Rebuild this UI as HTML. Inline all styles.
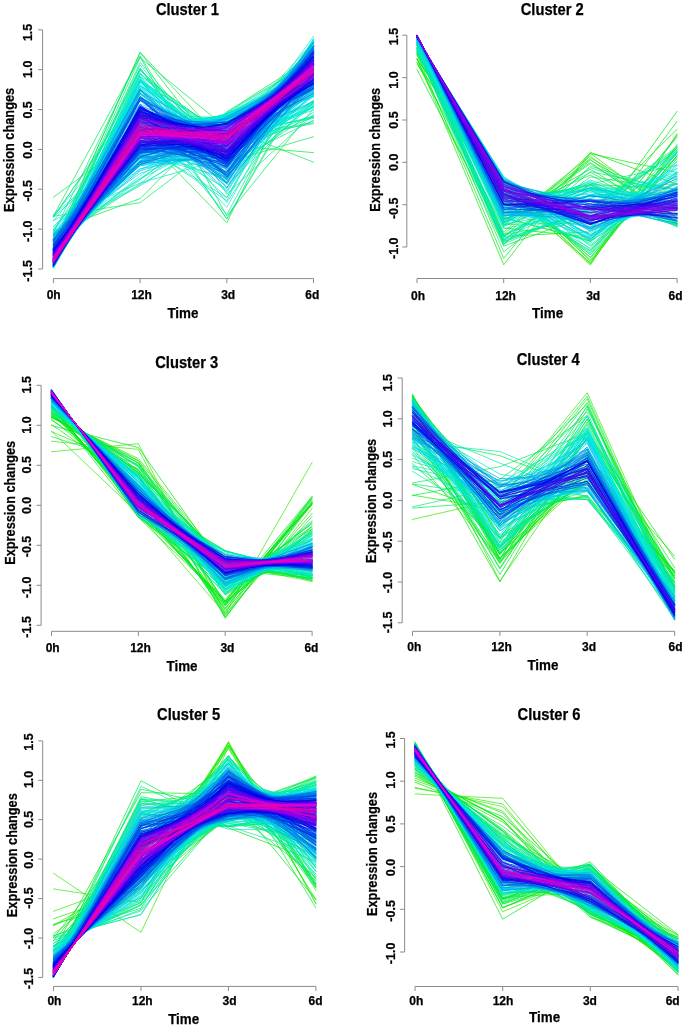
<!DOCTYPE html><html><head><meta charset="utf-8"><style>html,body{margin:0;padding:0;background:#fff;}svg{display:block;}text{font-family:"Liberation Sans",sans-serif;font-weight:bold;fill:#000;}</style></head><body>
<svg width="685" height="1026" viewBox="0 0 685 1026"><defs><filter id="bl" x="-5%" y="-5%" width="110%" height="110%"><feGaussianBlur stdDeviation="0.45"/></filter><filter id="tb" x="0" y="0" width="100%" height="100%"><feGaussianBlur stdDeviation="0.3"/></filter></defs><rect width="685" height="1026" fill="#fff"/><g filter="url(#tb)" stroke="#000" stroke-width="0.25">
<g fill="none" stroke-linecap="round" stroke-linejoin="round" stroke-width="0.70" filter="url(#bl)"><polyline points="53.4,230.6 140.1,198.6 226.8,112.0 313.5,56.4" stroke="#00ea3a"/><polyline points="53.4,197.2 140.1,133.5 226.8,222.7 313.5,44.2" stroke="#00ea3a"/><polyline points="53.4,247.4 140.1,52.2 226.8,145.4 313.5,152.6" stroke="#00ea3a"/><polyline points="53.4,261.6 140.1,74.0 226.8,138.4 313.5,123.7" stroke="#00ea50"/><polyline points="53.4,249.6 140.1,57.7 226.8,128.1 313.5,162.2" stroke="#00ea50"/><polyline points="53.4,246.1 140.1,52.6 226.8,162.3 313.5,136.7" stroke="#00ea50"/><polyline points="53.4,216.0 140.1,56.9 226.8,215.9 313.5,108.8" stroke="#00ea50"/><polyline points="53.4,257.5 140.1,69.9 226.8,153.1 313.5,117.1" stroke="#00ea67"/><polyline points="53.4,216.9 140.1,93.6 226.8,218.8 313.5,68.3" stroke="#00ea67"/><polyline points="53.4,216.3 140.1,202.7 226.8,136.7 313.5,41.8" stroke="#00ea67"/><polyline points="53.4,268.1 140.1,114.9 226.8,117.7 313.5,96.9" stroke="#00ea7c"/><polyline points="53.4,251.6 140.1,62.4 226.8,163.3 313.5,120.3" stroke="#00ea7c"/><polyline points="53.4,247.4 140.1,69.0 226.8,178.2 313.5,103.0" stroke="#00ea7c"/><polyline points="53.4,241.6 140.1,183.8 226.8,112.2 313.5,60.0" stroke="#00ea7c"/><polyline points="53.4,217.4 140.1,88.7 226.8,219.0 313.5,72.5" stroke="#00ea92"/><polyline points="53.4,242.0 140.1,178.5 226.8,122.0 313.5,55.1" stroke="#00ea92"/><polyline points="53.4,233.5 140.1,55.8 226.8,194.0 313.5,114.4" stroke="#00ea92"/><polyline points="53.4,243.6 140.1,68.0 226.8,184.7 313.5,101.4" stroke="#00eaa8"/><polyline points="53.4,266.9 140.1,124.2 226.8,116.7 313.5,89.9" stroke="#00eaa8"/><polyline points="53.4,232.0 140.1,92.0 226.8,202.5 313.5,71.2" stroke="#00eaa8"/><polyline points="53.4,262.5 140.1,76.1 226.8,136.2 313.5,122.8" stroke="#00eaa8"/><polyline points="53.4,254.5 140.1,161.1 226.8,113.8 313.5,68.2" stroke="#00eaa8"/><polyline points="53.4,259.9 140.1,73.8 226.8,148.2 313.5,115.7" stroke="#00eaa8"/><polyline points="53.4,243.9 140.1,179.8 226.8,113.4 313.5,60.5" stroke="#00eaa8"/><polyline points="53.4,266.1 140.1,129.1 226.8,114.8 313.5,87.6" stroke="#00eaa8"/><polyline points="53.4,248.8 140.1,68.2 226.8,175.0 313.5,105.6" stroke="#00eaa8"/><polyline points="53.4,233.6 140.1,185.9 226.8,129.9 313.5,48.2" stroke="#00eaa8"/><polyline points="53.4,259.0 140.1,70.4 226.8,147.1 313.5,121.1" stroke="#00eaa8"/><polyline points="53.4,264.6 140.1,85.3 226.8,137.6 313.5,110.1" stroke="#00eaa8"/><polyline points="53.4,215.4 140.1,114.5 226.8,214.5 313.5,53.2" stroke="#00eaa8"/><polyline points="53.4,266.4 140.1,127.6 226.8,115.5 313.5,88.1" stroke="#00eaa8"/><polyline points="53.4,264.5 140.1,81.7 226.8,133.1 313.5,118.4" stroke="#00eaa8"/><polyline points="53.4,249.8 140.1,64.9 226.8,170.8 313.5,112.1" stroke="#00eaa8"/><polyline points="53.4,258.3 140.1,153.0 226.8,113.8 313.5,72.4" stroke="#00eaa8"/><polyline points="53.4,263.4 140.1,79.9 226.8,138.0 313.5,116.3" stroke="#00eaa8"/><polyline points="53.4,262.2 140.1,85.6 226.8,147.9 313.5,101.9" stroke="#00eaa8"/><polyline points="53.4,260.6 140.1,81.0 226.8,151.5 313.5,104.5" stroke="#00eaa8"/><polyline points="53.4,257.6 140.1,154.0 226.8,115.0 313.5,71.1" stroke="#00eabe"/><polyline points="53.4,220.3 140.1,183.0 226.8,158.2 313.5,36.1" stroke="#00eabe"/><polyline points="53.4,254.4 140.1,72.8 226.8,164.9 313.5,105.5" stroke="#00eabe"/><polyline points="53.4,263.9 140.1,80.7 226.8,135.6 313.5,117.3" stroke="#00eabe"/><polyline points="53.4,263.6 140.1,139.2 226.8,113.4 313.5,81.4" stroke="#00eabe"/><polyline points="53.4,264.0 140.1,137.8 226.8,113.7 313.5,82.2" stroke="#00eabe"/><polyline points="53.4,245.7 140.1,175.8 226.8,116.1 313.5,60.0" stroke="#00eabe"/><polyline points="53.4,259.4 140.1,80.1 226.8,154.8 313.5,103.3" stroke="#00eabe"/><polyline points="53.4,265.6 140.1,131.2 226.8,115.1 313.5,85.8" stroke="#00eabe"/><polyline points="53.4,267.4 140.1,119.7 226.8,118.3 313.5,92.2" stroke="#00eabe"/><polyline points="53.4,265.2 140.1,132.5 226.8,115.4 313.5,84.5" stroke="#00eabe"/><polyline points="53.4,243.5 140.1,80.0 226.8,187.5 313.5,86.6" stroke="#00eabe"/><polyline points="53.4,214.7 140.1,143.1 226.8,200.6 313.5,39.2" stroke="#00eabe"/><polyline points="53.4,260.6 140.1,79.1 226.8,150.2 313.5,107.6" stroke="#00eabe"/><polyline points="53.4,229.9 140.1,116.8 226.8,197.5 313.5,53.5" stroke="#00eabe"/><polyline points="53.4,263.4 140.1,138.6 226.8,115.2 313.5,80.4" stroke="#00eabe"/><polyline points="53.4,226.8 140.1,139.8 226.8,188.6 313.5,42.4" stroke="#00eabe"/><polyline points="53.4,217.0 140.1,143.4 226.8,197.8 313.5,39.4" stroke="#00eabe"/><polyline points="53.4,267.3 140.1,122.4 226.8,116.2 313.5,91.7" stroke="#00eabe"/><polyline points="53.4,261.8 140.1,85.4 226.8,149.3 313.5,101.2" stroke="#00ead4"/><polyline points="53.4,261.8 140.1,82.0 226.8,147.6 313.5,106.2" stroke="#00ead4"/><polyline points="53.4,267.7 140.1,116.5 226.8,119.4 313.5,93.9" stroke="#00ead4"/><polyline points="53.4,253.8 140.1,76.0 226.8,167.7 313.5,100.1" stroke="#00ead4"/><polyline points="53.4,236.1 140.1,178.5 226.8,136.3 313.5,46.8" stroke="#00ead4"/><polyline points="53.4,262.1 140.1,142.7 226.8,114.8 313.5,77.9" stroke="#00ead4"/><polyline points="53.4,228.7 140.1,148.4 226.8,180.0 313.5,40.6" stroke="#00ead4"/><polyline points="53.4,249.9 140.1,87.2 226.8,176.9 313.5,83.6" stroke="#00ead4"/><polyline points="53.4,226.6 140.1,154.9 226.8,177.5 313.5,38.6" stroke="#00ead4"/><polyline points="53.4,254.5 140.1,80.9 226.8,167.4 313.5,94.7" stroke="#00ead4"/><polyline points="53.4,266.5 140.1,126.9 226.8,115.8 313.5,88.4" stroke="#00ead4"/><polyline points="53.4,221.0 140.1,117.9 226.8,207.2 313.5,51.4" stroke="#00ead4"/><polyline points="53.4,265.9 140.1,127.3 226.8,118.8 313.5,85.7" stroke="#00ead4"/><polyline points="53.4,260.1 140.1,81.5 226.8,153.3 313.5,102.7" stroke="#00ead4"/><polyline points="53.4,264.3 140.1,85.9 226.8,139.7 313.5,107.6" stroke="#00ead4"/><polyline points="53.4,253.8 140.1,85.3 226.8,169.5 313.5,89.0" stroke="#00ead4"/><polyline points="53.4,232.1 140.1,184.5 226.8,135.6 313.5,45.5" stroke="#00ead4"/><polyline points="53.4,266.1 140.1,93.5 226.8,134.4 313.5,103.6" stroke="#00ead4"/><polyline points="53.4,259.5 140.1,78.3 226.8,153.5 313.5,106.3" stroke="#00ead4"/><polyline points="53.4,248.1 140.1,86.0 226.8,180.1 313.5,83.4" stroke="#00ead4"/><polyline points="53.4,256.7 140.1,156.5 226.8,113.9 313.5,70.5" stroke="#00eaea"/><polyline points="53.4,239.3 140.1,168.9 226.8,142.6 313.5,46.7" stroke="#00eaea"/><polyline points="53.4,266.1 140.1,100.3 226.8,134.9 313.5,96.3" stroke="#00eaea"/><polyline points="53.4,244.9 140.1,170.1 226.8,128.4 313.5,54.2" stroke="#00eaea"/><polyline points="53.4,266.2 140.1,127.6 226.8,116.5 313.5,87.2" stroke="#00eaea"/><polyline points="53.4,230.0 140.1,161.9 226.8,166.4 313.5,39.3" stroke="#00eaea"/><polyline points="53.4,248.1 140.1,77.0 226.8,179.4 313.5,93.1" stroke="#00eaea"/><polyline points="53.4,258.9 140.1,150.1 226.8,116.6 313.5,72.0" stroke="#00eaea"/><polyline points="53.4,259.2 140.1,85.6 226.8,156.9 313.5,95.9" stroke="#00eaea"/><polyline points="53.4,257.5 140.1,82.7 226.8,160.8 313.5,96.6" stroke="#00eaea"/><polyline points="53.4,261.0 140.1,79.8 226.8,149.4 313.5,107.4" stroke="#00eaea"/><polyline points="53.4,265.4 140.1,129.8 226.8,117.9 313.5,84.5" stroke="#00eaea"/><polyline points="53.4,261.3 140.1,144.6 226.8,115.3 313.5,76.3" stroke="#00eaea"/><polyline points="53.4,266.3 140.1,123.8 226.8,120.5 313.5,87.0" stroke="#00eaea"/><polyline points="53.4,239.3 140.1,165.8 226.8,146.4 313.5,46.0" stroke="#00eaea"/><polyline points="53.4,266.4 140.1,125.6 226.8,117.6 313.5,87.9" stroke="#00eaea"/><polyline points="53.4,265.3 140.1,130.1 226.8,117.9 313.5,84.2" stroke="#00eaea"/><polyline points="53.4,257.7 140.1,152.3 226.8,117.8 313.5,69.8" stroke="#00eaea"/><polyline points="53.4,254.6 140.1,159.6 226.8,116.5 313.5,66.9" stroke="#00eaea"/><polyline points="53.4,239.8 140.1,161.7 226.8,150.3 313.5,45.8" stroke="#00eaea"/><polyline points="53.4,235.4 140.1,173.4 226.8,144.5 313.5,44.2" stroke="#00d4ea"/><polyline points="53.4,236.3 140.1,164.7 226.8,153.2 313.5,43.3" stroke="#00d4ea"/><polyline points="53.4,256.6 140.1,90.5 226.8,163.6 313.5,87.0" stroke="#00d4ea"/><polyline points="53.4,253.3 140.1,81.1 226.8,170.0 313.5,93.2" stroke="#00d4ea"/><polyline points="53.4,264.7 140.1,98.2 226.8,140.6 313.5,94.1" stroke="#00d4ea"/><polyline points="53.4,233.8 140.1,165.8 226.8,156.4 313.5,41.6" stroke="#00d4ea"/><polyline points="53.4,258.1 140.1,90.7 226.8,160.0 313.5,88.8" stroke="#00d4ea"/><polyline points="53.4,251.3 140.1,162.8 226.8,122.3 313.5,61.3" stroke="#00d4ea"/><polyline points="53.4,234.8 140.1,156.9 226.8,163.8 313.5,42.1" stroke="#00d4ea"/><polyline points="53.4,266.9 140.1,104.2 226.8,130.7 313.5,95.8" stroke="#00d4ea"/><polyline points="53.4,260.6 140.1,145.5 226.8,117.1 313.5,74.4" stroke="#00d4ea"/><polyline points="53.4,235.2 140.1,113.2 226.8,192.2 313.5,57.0" stroke="#00d4ea"/><polyline points="53.4,247.6 140.1,98.4 226.8,179.2 313.5,72.5" stroke="#00d4ea"/><polyline points="53.4,254.4 140.1,155.6 226.8,123.9 313.5,63.7" stroke="#00d4ea"/><polyline points="53.4,236.5 140.1,151.6 226.8,165.9 313.5,43.6" stroke="#00d4ea"/><polyline points="53.4,251.9 140.1,160.5 226.8,124.1 313.5,61.1" stroke="#00d4ea"/><polyline points="53.4,233.9 140.1,168.8 226.8,152.9 313.5,42.0" stroke="#00d4ea"/><polyline points="53.4,255.3 140.1,156.5 226.8,119.6 313.5,66.2" stroke="#00d4ea"/><polyline points="53.4,237.0 140.1,111.0 226.8,190.7 313.5,58.9" stroke="#00d4ea"/><polyline points="53.4,233.4 140.1,148.7 226.8,173.0 313.5,42.5" stroke="#00beea"/><polyline points="53.4,237.9 140.1,171.1 226.8,142.7 313.5,45.9" stroke="#00beea"/><polyline points="53.4,247.1 140.1,162.5 226.8,134.1 313.5,54.0" stroke="#00beea"/><polyline points="53.4,258.7 140.1,148.7 226.8,119.6 313.5,70.5" stroke="#00beea"/><polyline points="53.4,265.9 140.1,127.4 226.8,118.5 313.5,85.8" stroke="#00beea"/><polyline points="53.4,257.6 140.1,151.4 226.8,119.3 313.5,69.2" stroke="#00beea"/><polyline points="53.4,257.8 140.1,89.9 226.8,160.9 313.5,89.1" stroke="#00beea"/><polyline points="53.4,242.1 140.1,114.9 226.8,181.8 313.5,58.7" stroke="#00beea"/><polyline points="53.4,258.4 140.1,150.6 226.8,117.8 313.5,70.8" stroke="#00beea"/><polyline points="53.4,245.4 140.1,165.1 226.8,134.4 313.5,52.7" stroke="#00beea"/><polyline points="53.4,264.8 140.1,97.1 226.8,140.4 313.5,95.4" stroke="#00beea"/><polyline points="53.4,245.8 140.1,89.0 226.8,183.7 313.5,79.1" stroke="#00beea"/><polyline points="53.4,258.9 140.1,88.5 226.8,158.0 313.5,92.2" stroke="#00beea"/><polyline points="53.4,263.4 140.1,137.2 226.8,117.8 313.5,79.3" stroke="#00beea"/><polyline points="53.4,248.7 140.1,163.0 226.8,129.2 313.5,56.7" stroke="#00beea"/><polyline points="53.4,257.7 140.1,93.5 226.8,160.9 313.5,85.5" stroke="#00beea"/><polyline points="53.4,236.1 140.1,158.1 226.8,160.5 313.5,42.9" stroke="#00beea"/><polyline points="53.4,240.5 140.1,164.3 226.8,146.1 313.5,46.8" stroke="#00beea"/><polyline points="53.4,256.0 140.1,154.5 226.8,120.4 313.5,66.7" stroke="#00beea"/><polyline points="53.4,240.6 140.1,126.3 226.8,178.1 313.5,52.5" stroke="#00beea"/><polyline points="53.4,256.4 140.1,155.3 226.8,117.6 313.5,68.4" stroke="#00a8ea"/><polyline points="53.4,251.2 140.1,157.4 226.8,130.7 313.5,58.4" stroke="#00a8ea"/><polyline points="53.4,264.4 140.1,90.8 226.8,141.1 313.5,101.2" stroke="#00a8ea"/><polyline points="53.4,238.2 140.1,122.6 226.8,183.7 313.5,53.1" stroke="#00a8ea"/><polyline points="53.4,248.1 140.1,164.7 226.8,128.4 313.5,56.4" stroke="#00a8ea"/><polyline points="53.4,240.1 140.1,141.0 226.8,169.0 313.5,47.5" stroke="#00a8ea"/><polyline points="53.4,238.9 140.1,145.3 226.8,167.5 313.5,45.9" stroke="#00a8ea"/><polyline points="53.4,254.6 140.1,98.9 226.8,166.4 313.5,77.6" stroke="#00a8ea"/><polyline points="53.4,235.6 140.1,161.4 226.8,157.9 313.5,42.6" stroke="#00a8ea"/><polyline points="53.4,249.6 140.1,98.3 226.8,175.8 313.5,73.9" stroke="#00a8ea"/><polyline points="53.4,252.7 140.1,157.2 226.8,126.6 313.5,61.0" stroke="#00a8ea"/><polyline points="53.4,242.0 140.1,114.2 226.8,182.3 313.5,59.1" stroke="#00a8ea"/><polyline points="53.4,240.1 140.1,157.1 226.8,154.7 313.5,45.7" stroke="#00a8ea"/><polyline points="53.4,234.9 140.1,163.4 226.8,157.1 313.5,42.2" stroke="#00a8ea"/><polyline points="53.4,239.0 140.1,144.2 226.8,168.2 313.5,46.2" stroke="#00a8ea"/><polyline points="53.4,257.3 140.1,153.6 226.8,117.0 313.5,69.7" stroke="#00a8ea"/><polyline points="53.4,240.4 140.1,127.2 226.8,177.9 313.5,52.1" stroke="#00a8ea"/><polyline points="53.4,249.0 140.1,161.3 226.8,130.9 313.5,56.4" stroke="#00a8ea"/><polyline points="53.4,266.8 140.1,113.9 226.8,126.5 313.5,90.4" stroke="#00a8ea"/><polyline points="53.4,247.8 140.1,105.2 226.8,176.9 313.5,67.7" stroke="#0092ea"/><polyline points="53.4,243.7 140.1,158.5 226.8,146.4 313.5,49.0" stroke="#0092ea"/><polyline points="53.4,263.3 140.1,97.4 226.8,145.4 313.5,91.5" stroke="#0092ea"/><polyline points="53.4,239.1 140.1,122.1 226.8,182.7 313.5,53.7" stroke="#0092ea"/><polyline points="53.4,254.8 140.1,98.2 226.8,166.1 313.5,78.4" stroke="#0092ea"/><polyline points="53.4,265.2 140.1,127.6 226.8,121.6 313.5,83.1" stroke="#0092ea"/><polyline points="53.4,249.3 140.1,96.0 226.8,176.8 313.5,75.4" stroke="#0092ea"/><polyline points="53.4,246.1 140.1,161.1 226.8,138.1 313.5,52.3" stroke="#0092ea"/><polyline points="53.4,246.3 140.1,162.8 226.8,135.5 313.5,53.0" stroke="#0092ea"/><polyline points="53.4,266.7 140.1,120.3 226.8,122.3 313.5,88.4" stroke="#0092ea"/><polyline points="53.4,241.1 140.1,104.1 226.8,187.5 313.5,64.9" stroke="#0092ea"/><polyline points="53.4,250.5 140.1,157.6 226.8,132.1 313.5,57.4" stroke="#0092ea"/><polyline points="53.4,265.6 140.1,125.7 226.8,122.3 313.5,84.1" stroke="#0092ea"/><polyline points="53.4,243.9 140.1,157.5 226.8,147.1 313.5,49.1" stroke="#0092ea"/><polyline points="53.4,263.6 140.1,135.5 226.8,119.3 313.5,79.3" stroke="#0092ea"/><polyline points="53.4,258.9 140.1,93.2 226.8,158.0 313.5,87.5" stroke="#0092ea"/><polyline points="53.4,244.8 140.1,164.6 226.8,136.5 313.5,51.6" stroke="#007cea"/><polyline points="53.4,248.3 140.1,109.5 226.8,174.5 313.5,65.4" stroke="#007cea"/><polyline points="53.4,239.2 140.1,135.3 226.8,174.5 313.5,48.6" stroke="#007cea"/><polyline points="53.4,266.8 140.1,115.5 226.8,125.5 313.5,89.8" stroke="#007cea"/><polyline points="53.4,247.7 140.1,112.1 226.8,174.2 313.5,63.5" stroke="#007cea"/><polyline points="53.4,250.3 140.1,156.4 226.8,134.4 313.5,56.6" stroke="#007cea"/><polyline points="53.4,242.5 140.1,162.5 226.8,144.1 313.5,48.5" stroke="#007cea"/><polyline points="53.4,249.9 140.1,89.4 226.8,176.7 313.5,81.5" stroke="#007cea"/><polyline points="53.4,242.2 140.1,148.5 226.8,159.2 313.5,47.7" stroke="#007cea"/><polyline points="53.4,241.5 140.1,152.0 226.8,157.1 313.5,46.9" stroke="#007cea"/><polyline points="53.4,259.0 140.1,146.1 226.8,122.4 313.5,70.1" stroke="#007cea"/><polyline points="53.4,239.3 140.1,127.7 226.8,179.3 313.5,51.4" stroke="#007cea"/><polyline points="53.4,246.5 140.1,153.0 226.8,146.8 313.5,51.4" stroke="#007cea"/><polyline points="53.4,255.3 140.1,154.2 226.8,123.3 313.5,64.9" stroke="#007cea"/><polyline points="53.4,261.7 140.1,97.5 226.8,150.4 313.5,88.1" stroke="#007cea"/><polyline points="53.4,266.6 140.1,119.9 226.8,122.9 313.5,88.2" stroke="#007cea"/><polyline points="53.4,259.3 140.1,96.7 226.8,156.6 313.5,85.0" stroke="#0067ea"/><polyline points="53.4,249.4 140.1,98.6 226.8,176.2 313.5,73.5" stroke="#0067ea"/><polyline points="53.4,249.1 140.1,97.8 226.8,176.8 313.5,73.9" stroke="#0067ea"/><polyline points="53.4,244.4 140.1,151.7 226.8,152.2 313.5,49.3" stroke="#0067ea"/><polyline points="53.4,240.7 140.1,131.6 226.8,174.7 313.5,50.6" stroke="#0067ea"/><polyline points="53.4,265.6 140.1,122.8 226.8,124.9 313.5,84.4" stroke="#0067ea"/><polyline points="53.4,258.8 140.1,99.9 226.8,157.0 313.5,81.8" stroke="#0067ea"/><polyline points="53.4,265.1 140.1,100.1 226.8,139.0 313.5,93.5" stroke="#0067ea"/><polyline points="53.4,240.5 140.1,147.6 226.8,163.0 313.5,46.6" stroke="#0067ea"/><polyline points="53.4,240.5 140.1,147.9 226.8,162.7 313.5,46.5" stroke="#0067ea"/><polyline points="53.4,266.0 140.1,111.5 226.8,131.8 313.5,88.4" stroke="#0067ea"/><polyline points="53.4,244.7 140.1,146.9 226.8,156.2 313.5,49.8" stroke="#0067ea"/><polyline points="53.4,265.6 140.1,122.6 226.8,125.0 313.5,84.4" stroke="#0067ea"/><polyline points="53.4,243.9 140.1,128.8 226.8,171.5 313.5,53.4" stroke="#0067ea"/><polyline points="53.4,251.7 140.1,111.1 226.8,167.8 313.5,67.0" stroke="#0067ea"/><polyline points="53.4,257.7 140.1,97.4 226.8,160.3 313.5,82.2" stroke="#0067ea"/><polyline points="53.4,254.8 140.1,152.0 226.8,127.7 313.5,63.0" stroke="#0050ea"/><polyline points="53.4,244.1 140.1,135.7 226.8,166.4 313.5,51.4" stroke="#0050ea"/><polyline points="53.4,264.7 140.1,105.6 226.8,139.0 313.5,88.3" stroke="#0050ea"/><polyline points="53.4,245.7 140.1,146.2 226.8,155.1 313.5,50.7" stroke="#0050ea"/><polyline points="53.4,264.6 140.1,129.5 226.8,122.2 313.5,81.3" stroke="#0050ea"/><polyline points="53.4,247.7 140.1,115.0 226.8,172.9 313.5,61.9" stroke="#0050ea"/><polyline points="53.4,252.5 140.1,151.7 226.8,134.5 313.5,58.9" stroke="#0050ea"/><polyline points="53.4,241.0 140.1,134.5 226.8,172.3 313.5,49.8" stroke="#0050ea"/><polyline points="53.4,265.4 140.1,111.5 226.8,133.9 313.5,86.8" stroke="#0050ea"/><polyline points="53.4,253.2 140.1,153.0 226.8,131.1 313.5,60.3" stroke="#0050ea"/><polyline points="53.4,259.1 140.1,145.0 226.8,123.8 313.5,69.7" stroke="#0050ea"/><polyline points="53.4,250.5 140.1,156.6 226.8,133.4 313.5,57.0" stroke="#0050ea"/><polyline points="53.4,244.7 140.1,136.5 226.8,164.8 313.5,51.6" stroke="#0050ea"/><polyline points="53.4,264.6 140.1,130.0 226.8,121.9 313.5,81.1" stroke="#0050ea"/><polyline points="53.4,248.8 140.1,152.9 226.8,141.9 313.5,54.0" stroke="#0050ea"/><polyline points="53.4,248.5 140.1,149.9 226.8,145.7 313.5,53.4" stroke="#0050ea"/><polyline points="53.4,256.1 140.1,100.5 226.8,163.0 313.5,78.0" stroke="#003aea"/><polyline points="53.4,248.0 140.1,144.6 226.8,152.0 313.5,53.0" stroke="#003aea"/><polyline points="53.4,245.3 140.1,140.8 226.8,160.4 313.5,51.1" stroke="#003aea"/><polyline points="53.4,246.7 140.1,143.7 226.8,155.4 313.5,51.8" stroke="#003aea"/><polyline points="53.4,265.7 140.1,109.5 226.8,134.0 313.5,88.5" stroke="#003aea"/><polyline points="53.4,265.3 140.1,117.2 226.8,130.7 313.5,84.4" stroke="#003aea"/><polyline points="53.4,265.1 140.1,112.1 226.8,134.7 313.5,85.7" stroke="#003aea"/><polyline points="53.4,261.9 140.1,106.5 226.8,147.3 313.5,81.9" stroke="#003aea"/><polyline points="53.4,244.7 140.1,133.4 226.8,167.2 313.5,52.4" stroke="#003aea"/><polyline points="53.4,262.0 140.1,107.8 226.8,146.4 313.5,81.4" stroke="#003aea"/><polyline points="53.4,259.9 140.1,143.5 226.8,122.8 313.5,71.3" stroke="#003aea"/><polyline points="53.4,248.2 140.1,141.8 226.8,154.2 313.5,53.4" stroke="#003aea"/><polyline points="53.4,252.1 140.1,118.6 226.8,163.4 313.5,63.6" stroke="#003aea"/><polyline points="53.4,253.3 140.1,150.4 226.8,134.0 313.5,59.9" stroke="#003aea"/><polyline points="53.4,262.1 140.1,107.5 226.8,146.3 313.5,81.7" stroke="#003aea"/><polyline points="53.4,251.7 140.1,148.2 226.8,140.7 313.5,57.1" stroke="#003aea"/><polyline points="53.4,251.9 140.1,115.3 226.8,165.4 313.5,65.0" stroke="#0024ea"/><polyline points="53.4,247.2 140.1,148.6 226.8,149.8 313.5,52.0" stroke="#0024ea"/><polyline points="53.4,260.3 140.1,107.4 226.8,151.1 313.5,78.7" stroke="#0024ea"/><polyline points="53.4,260.2 140.1,107.4 226.8,151.3 313.5,78.7" stroke="#0024ea"/><polyline points="53.4,260.0 140.1,142.9 226.8,123.5 313.5,71.2" stroke="#0024ea"/><polyline points="53.4,249.2 140.1,141.9 226.8,152.1 313.5,54.4" stroke="#0024ea"/><polyline points="53.4,249.9 140.1,150.4 226.8,142.3 313.5,55.1" stroke="#0024ea"/><polyline points="53.4,252.0 140.1,117.5 226.8,164.1 313.5,64.0" stroke="#0024ea"/><polyline points="53.4,249.1 140.1,149.1 226.8,145.4 313.5,54.0" stroke="#0024ea"/><polyline points="53.4,254.6 140.1,110.4 226.8,162.4 313.5,70.1" stroke="#0024ea"/><polyline points="53.4,261.3 140.1,107.4 226.8,148.6 313.5,80.3" stroke="#0024ea"/><polyline points="53.4,257.9 140.1,145.2 226.8,127.6 313.5,66.9" stroke="#0024ea"/><polyline points="53.4,257.5 140.1,110.6 226.8,156.4 313.5,73.2" stroke="#0024ea"/><polyline points="53.4,256.6 140.1,110.6 226.8,158.4 313.5,72.0" stroke="#0024ea"/><polyline points="53.4,258.6 140.1,109.6 226.8,154.3 313.5,75.1" stroke="#0024ea"/><polyline points="53.4,253.7 140.1,113.5 226.8,162.8 313.5,67.5" stroke="#0024ea"/><polyline points="53.4,258.2 140.1,107.4 226.8,156.1 313.5,75.9" stroke="#000eea"/><polyline points="53.4,256.4 140.1,145.8 226.8,131.2 313.5,64.2" stroke="#000eea"/><polyline points="53.4,249.5 140.1,132.6 226.8,159.1 313.5,56.3" stroke="#000eea"/><polyline points="53.4,263.4 140.1,109.1 226.8,141.9 313.5,83.2" stroke="#000eea"/><polyline points="53.4,264.9 140.1,115.5 226.8,133.5 313.5,83.7" stroke="#000eea"/><polyline points="53.4,252.7 140.1,120.2 226.8,161.2 313.5,63.5" stroke="#000eea"/><polyline points="53.4,253.7 140.1,116.5 226.8,161.4 313.5,66.0" stroke="#000eea"/><polyline points="53.4,259.5 140.1,109.4 226.8,152.3 313.5,76.4" stroke="#000eea"/><polyline points="53.4,259.9 140.1,106.7 226.8,152.5 313.5,78.5" stroke="#000eea"/><polyline points="53.4,265.0 140.1,114.8 226.8,133.6 313.5,84.2" stroke="#000eea"/><polyline points="53.4,250.0 140.1,136.3 226.8,155.4 313.5,56.0" stroke="#000eea"/><polyline points="53.4,251.9 140.1,145.6 226.8,142.8 313.5,57.3" stroke="#000eea"/><polyline points="53.4,252.1 140.1,146.7 226.8,141.2 313.5,57.6" stroke="#000eea"/><polyline points="53.4,260.7 140.1,106.8 226.8,150.5 313.5,79.7" stroke="#000eea"/><polyline points="53.4,261.7 140.1,137.8 226.8,124.1 313.5,74.1" stroke="#000eea"/><polyline points="53.4,252.7 140.1,121.8 226.8,160.3 313.5,62.7" stroke="#0700ea"/><polyline points="53.4,250.4 140.1,140.2 226.8,151.2 313.5,55.8" stroke="#0700ea"/><polyline points="53.4,251.1 140.1,132.9 226.8,155.8 313.5,57.7" stroke="#0700ea"/><polyline points="53.4,258.9 140.1,111.1 226.8,153.0 313.5,74.6" stroke="#0700ea"/><polyline points="53.4,263.9 140.1,130.4 226.8,124.3 313.5,79.0" stroke="#0700ea"/><polyline points="53.4,254.9 140.1,118.4 226.8,157.9 313.5,66.4" stroke="#0700ea"/><polyline points="53.4,251.8 140.1,130.3 226.8,156.4 313.5,59.1" stroke="#0700ea"/><polyline points="53.4,264.7 140.1,115.0 226.8,134.4 313.5,83.5" stroke="#0700ea"/><polyline points="53.4,255.7 140.1,113.3 226.8,158.9 313.5,69.7" stroke="#0700ea"/><polyline points="53.4,254.2 140.1,145.1 226.8,137.9 313.5,60.4" stroke="#0700ea"/><polyline points="53.4,254.6 140.1,117.3 226.8,159.2 313.5,66.5" stroke="#0700ea"/><polyline points="53.4,254.2 140.1,120.8 226.8,157.9 313.5,64.7" stroke="#0700ea"/><polyline points="53.4,265.1 140.1,117.5 226.8,131.4 313.5,83.7" stroke="#0700ea"/><polyline points="53.4,264.3 140.1,116.9 226.8,134.8 313.5,81.7" stroke="#0700ea"/><polyline points="53.4,260.8 140.1,108.1 226.8,149.6 313.5,79.1" stroke="#0700ea"/><polyline points="53.4,261.8 140.1,138.2 226.8,123.3 313.5,74.4" stroke="#0700ea"/><polyline points="53.4,255.7 140.1,144.7 226.8,134.6 313.5,62.7" stroke="#1d00ea"/><polyline points="53.4,254.7 140.1,142.2 226.8,139.8 313.5,60.9" stroke="#1d00ea"/><polyline points="53.4,262.5 140.1,111.7 226.8,143.4 313.5,80.1" stroke="#1d00ea"/><polyline points="53.4,253.1 140.1,129.5 226.8,154.4 313.5,60.6" stroke="#1d00ea"/><polyline points="53.4,261.2 140.1,137.6 226.8,125.9 313.5,72.9" stroke="#1d00ea"/><polyline points="53.4,262.5 140.1,112.6 226.8,142.8 313.5,79.7" stroke="#1d00ea"/><polyline points="53.4,260.1 140.1,140.5 226.8,126.3 313.5,70.7" stroke="#3300ea"/><polyline points="53.4,255.8 140.1,145.7 226.8,133.0 313.5,63.1" stroke="#3300ea"/><polyline points="53.4,262.4 140.1,113.6 226.8,142.7 313.5,78.9" stroke="#3300ea"/><polyline points="53.4,254.0 140.1,147.4 226.8,135.8 313.5,60.4" stroke="#3300ea"/><polyline points="53.4,252.7 140.1,127.1 226.8,156.8 313.5,60.9" stroke="#3300ea"/><polyline points="53.4,261.7 140.1,111.9 226.8,145.5 313.5,78.5" stroke="#3300ea"/><polyline points="53.4,253.9 140.1,143.1 226.8,140.8 313.5,59.8" stroke="#4900ea"/><polyline points="53.4,259.6 140.1,140.3 226.8,128.0 313.5,69.6" stroke="#4900ea"/><polyline points="53.4,252.5 140.1,140.7 226.8,146.4 313.5,58.1" stroke="#4900ea"/><polyline points="53.4,257.6 140.1,117.9 226.8,152.5 313.5,69.7" stroke="#4900ea"/><polyline points="53.4,253.7 140.1,125.0 226.8,156.3 313.5,62.5" stroke="#4900ea"/><polyline points="53.4,256.9 140.1,142.2 226.8,134.0 313.5,64.5" stroke="#4900ea"/><polyline points="53.4,253.7 140.1,132.4 226.8,150.9 313.5,60.6" stroke="#5f00ea"/><polyline points="53.4,255.1 140.1,122.8 226.8,154.8 313.5,64.9" stroke="#5f00ea"/><polyline points="53.4,261.1 140.1,115.2 226.8,145.3 313.5,75.9" stroke="#5f00ea"/><polyline points="53.4,254.8 140.1,126.5 226.8,152.9 313.5,63.3" stroke="#5f00ea"/><polyline points="53.4,254.0 140.1,133.1 226.8,149.6 313.5,60.8" stroke="#5f00ea"/><polyline points="53.4,261.4 140.1,115.9 226.8,144.1 313.5,76.2" stroke="#5f00ea"/><polyline points="53.4,263.5 140.1,129.1 226.8,127.2 313.5,77.7" stroke="#7500ea"/><polyline points="53.4,263.4 140.1,118.7 226.8,136.5 313.5,79.0" stroke="#7500ea"/><polyline points="53.4,260.2 140.1,138.7 226.8,128.1 313.5,70.6" stroke="#7500ea"/><polyline points="53.4,261.3 140.1,117.7 226.8,143.4 313.5,75.2" stroke="#7500ea"/><polyline points="53.4,259.8 140.1,138.6 226.8,129.5 313.5,69.7" stroke="#7500ea"/><polyline points="53.4,256.8 140.1,124.1 226.8,150.1 313.5,66.5" stroke="#7500ea"/><polyline points="53.4,255.3 140.1,130.2 226.8,149.2 313.5,62.9" stroke="#8a00ea"/><polyline points="53.4,257.2 140.1,141.5 226.8,134.0 313.5,64.9" stroke="#8a00ea"/><polyline points="53.4,259.4 140.1,138.4 226.8,130.9 313.5,68.8" stroke="#8a00ea"/><polyline points="53.4,255.5 140.1,136.7 226.8,143.2 313.5,62.2" stroke="#8a00ea"/><polyline points="53.4,261.8 140.1,118.0 226.8,141.7 313.5,76.1" stroke="#8a00ea"/><polyline points="53.4,260.9 140.1,119.0 226.8,143.5 313.5,74.2" stroke="#8a00ea"/><polyline points="53.4,262.3 140.1,132.7 226.8,127.9 313.5,74.8" stroke="#a100ea"/><polyline points="53.4,263.4 140.1,121.0 226.8,134.9 313.5,78.3" stroke="#a100ea"/><polyline points="53.4,258.9 140.1,138.7 226.8,132.1 313.5,67.9" stroke="#a100ea"/><polyline points="53.4,262.6 140.1,131.9 226.8,127.7 313.5,75.4" stroke="#a100ea"/><polyline points="53.4,257.0 140.1,138.3 226.8,138.0 313.5,64.4" stroke="#a100ea"/><polyline points="53.4,257.4 140.1,126.3 226.8,147.2 313.5,66.7" stroke="#b700ea"/><polyline points="53.4,256.8 140.1,131.1 226.8,144.9 313.5,64.8" stroke="#b700ea"/><polyline points="53.4,259.5 140.1,122.3 226.8,144.9 313.5,70.8" stroke="#b700ea"/><polyline points="53.4,257.8 140.1,137.2 226.8,136.9 313.5,65.7" stroke="#cd00ea"/><polyline points="53.4,259.7 140.1,136.0 226.8,132.8 313.5,69.1" stroke="#cd00ea"/><polyline points="53.4,258.0 140.1,128.6 226.8,144.0 313.5,67.0" stroke="#cd00ea"/><polyline points="53.4,259.9 140.1,135.8 226.8,132.3 313.5,69.6" stroke="#e300ea"/><polyline points="53.4,258.1 140.1,133.8 226.8,139.4 313.5,66.3" stroke="#e300ea"/><polyline points="53.4,257.9 140.1,134.5 226.8,139.2 313.5,66.0" stroke="#e300ea"/><polyline points="53.4,261.3 140.1,132.5 226.8,131.4 313.5,72.4" stroke="#ea00db"/><polyline points="53.4,258.2 140.1,131.8 226.8,140.9 313.5,66.7" stroke="#ea00db"/><polyline points="53.4,259.7 140.1,124.9 226.8,142.5 313.5,70.4" stroke="#ea00db"/><polyline points="53.4,258.8 140.1,134.7 226.8,136.7 313.5,67.5" stroke="#ea00c5"/><polyline points="53.4,260.9 140.1,132.4 226.8,132.6 313.5,71.6" stroke="#ea00c5"/><polyline points="53.4,260.1 140.1,133.2 226.8,134.4 313.5,69.9" stroke="#ea00c5"/><polyline points="53.4,261.3 140.1,125.2 226.8,138.0 313.5,73.1" stroke="#ea00af"/><polyline points="53.4,259.7 140.1,133.3 226.8,135.4 313.5,69.2" stroke="#ea00af"/><polyline points="53.4,259.9 140.1,132.2 226.8,135.7 313.5,69.7" stroke="#ea00af"/><polyline points="53.4,260.3 140.1,126.9 226.8,139.3 313.5,71.0" stroke="#ea0099"/><polyline points="53.4,259.9 140.1,130.0 226.8,137.9 313.5,69.8" stroke="#ea0099"/><polyline points="53.4,260.3 140.1,129.0 226.8,137.6 313.5,70.7" stroke="#ea0099"/></g>
<path d="M42.6 29.8V269.0M38.1 29.8H42.6M38.1 69.7H42.6M38.1 109.6H42.6M38.1 149.4H42.6M38.1 189.2H42.6M38.1 229.1H42.6M38.1 269.0H42.6M53.4 278.6H313.5M53.4 278.6V283.1M140.1 278.6V283.1M226.8 278.6V283.1M313.5 278.6V283.1" stroke="#8a8a8a" stroke-width="1" fill="none"/>
<text transform="translate(32.2 32.4) rotate(-90)" text-anchor="middle" font-size="12.5">1.5</text>
<text transform="translate(32.2 69.2) rotate(-90)" text-anchor="middle" font-size="12.5">1.0</text>
<text transform="translate(32.2 109.9) rotate(-90)" text-anchor="middle" font-size="12.5">0.5</text>
<text transform="translate(32.2 150.0) rotate(-90)" text-anchor="middle" font-size="12.5">0.0</text>
<text transform="translate(32.2 190.8) rotate(-90)" text-anchor="middle" font-size="12.5">-0.5</text>
<text transform="translate(32.2 231.2) rotate(-90)" text-anchor="middle" font-size="12.5">-1.0</text>
<text transform="translate(32.2 270.9) rotate(-90)" text-anchor="middle" font-size="12.5">-1.5</text>
<text x="53.7" y="299.4" text-anchor="middle" font-size="12">0h</text>
<text x="141.5" y="299.4" text-anchor="middle" font-size="12">12h</text>
<text x="228.2" y="299.4" text-anchor="middle" font-size="12">3d</text>
<text x="312.3" y="299.4" text-anchor="middle" font-size="12">6d</text>
<text x="182.9" y="318.0" text-anchor="middle" font-size="14" textLength="31" lengthAdjust="spacingAndGlyphs">Time</text>
<text x="187.4" y="14.9" text-anchor="middle" font-size="16" textLength="63" lengthAdjust="spacingAndGlyphs">Cluster 1</text>
<text transform="translate(14.3 149.9) rotate(-90)" text-anchor="middle" font-size="14" textLength="124" lengthAdjust="spacingAndGlyphs">Expression changes</text>
<g fill="none" stroke-linecap="round" stroke-linejoin="round" stroke-width="0.70" filter="url(#bl)"><polyline points="417.0,45.3 503.7,237.3 590.4,157.7 677.1,209.0" stroke="#33ea00"/><polyline points="417.0,64.4 503.7,185.9 590.4,265.1 677.1,133.7" stroke="#33ea00"/><polyline points="417.0,55.1 503.7,176.9 590.4,261.2 677.1,156.1" stroke="#33ea00"/><polyline points="417.0,62.5 503.7,189.7 590.4,262.5 677.1,134.5" stroke="#33ea00"/><polyline points="417.0,59.2 503.7,180.4 590.4,263.7 677.1,145.9" stroke="#1dea00"/><polyline points="417.0,46.1 503.7,232.1 590.4,153.3 677.1,217.7" stroke="#1dea00"/><polyline points="417.0,59.5 503.7,181.6 590.4,263.6 677.1,144.4" stroke="#1dea00"/><polyline points="417.0,44.7 503.7,224.0 590.4,156.1 677.1,224.4" stroke="#1dea00"/><polyline points="417.0,40.4 503.7,217.9 590.4,169.2 677.1,221.8" stroke="#07ea00"/><polyline points="417.0,54.1 503.7,258.4 590.4,152.3 677.1,184.4" stroke="#07ea00"/><polyline points="417.0,54.7 503.7,217.4 590.4,241.2 677.1,136.0" stroke="#07ea00"/><polyline points="417.0,69.6 503.7,236.4 590.4,231.8 677.1,111.3" stroke="#07ea00"/><polyline points="417.0,62.7 503.7,228.0 590.4,237.2 677.1,121.3" stroke="#00ea0e"/><polyline points="417.0,43.5 503.7,222.6 590.4,159.4 677.1,223.7" stroke="#00ea0e"/><polyline points="417.0,58.1 503.7,264.8 590.4,153.7 677.1,172.5" stroke="#00ea0e"/><polyline points="417.0,54.3 503.7,179.4 590.4,259.9 677.1,155.6" stroke="#00ea0e"/><polyline points="417.0,59.1 503.7,246.1 590.4,214.7 677.1,129.3" stroke="#00ea0e"/><polyline points="417.0,38.9 503.7,213.4 590.4,175.1 677.1,221.7" stroke="#00ea24"/><polyline points="417.0,52.7 503.7,183.7 590.4,257.2 677.1,155.6" stroke="#00ea24"/><polyline points="417.0,42.1 503.7,225.2 590.4,163.6 677.1,218.3" stroke="#00ea24"/><polyline points="417.0,40.2 503.7,235.9 590.4,184.5 677.1,188.7" stroke="#00ea24"/><polyline points="417.0,44.0 503.7,234.1 590.4,160.1 677.1,210.9" stroke="#00ea3a"/><polyline points="417.0,48.3 503.7,235.2 590.4,217.3 677.1,148.4" stroke="#00ea3a"/><polyline points="417.0,51.2 503.7,192.5 590.4,252.7 677.1,152.9" stroke="#00ea3a"/><polyline points="417.0,42.5 503.7,221.5 590.4,162.5 677.1,222.8" stroke="#00ea3a"/><polyline points="417.0,52.2 503.7,190.9 590.4,254.4 677.1,151.7" stroke="#00ea3a"/><polyline points="417.0,49.5 503.7,242.1 590.4,209.4 677.1,148.2" stroke="#00ea3a"/><polyline points="417.0,37.7 503.7,196.3 590.4,188.4 677.1,226.8" stroke="#00ea50"/><polyline points="417.0,52.4 503.7,180.4 590.4,257.7 677.1,158.7" stroke="#00ea50"/><polyline points="417.0,37.7 503.7,202.4 590.4,184.5 677.1,224.6" stroke="#00ea50"/><polyline points="417.0,44.0 503.7,224.5 590.4,222.7 677.1,157.9" stroke="#00ea50"/><polyline points="417.0,37.6 503.7,222.2 590.4,182.6 677.1,206.8" stroke="#00ea50"/><polyline points="417.0,42.3 503.7,185.3 590.4,241.5 677.1,180.0" stroke="#00ea50"/><polyline points="417.0,39.6 503.7,219.8 590.4,172.3 677.1,217.6" stroke="#00ea67"/><polyline points="417.0,44.0 503.7,244.2 590.4,171.6 677.1,189.4" stroke="#00ea67"/><polyline points="417.0,49.5 503.7,210.2 590.4,241.7 677.1,147.8" stroke="#00ea67"/><polyline points="417.0,51.4 503.7,197.6 590.4,250.7 677.1,149.6" stroke="#00ea67"/><polyline points="417.0,42.1 503.7,240.4 590.4,176.8 677.1,190.0" stroke="#00ea67"/><polyline points="417.0,37.4 503.7,203.3 590.4,185.2 677.1,223.3" stroke="#00ea67"/><polyline points="417.0,43.5 503.7,240.8 590.4,167.6 677.1,197.3" stroke="#00ea7c"/><polyline points="417.0,48.2 503.7,251.9 590.4,184.0 677.1,165.1" stroke="#00ea7c"/><polyline points="417.0,48.2 503.7,241.6 590.4,208.1 677.1,151.3" stroke="#00ea7c"/><polyline points="417.0,37.5 503.7,226.3 590.4,189.9 677.1,195.4" stroke="#00ea7c"/><polyline points="417.0,49.7 503.7,199.0 590.4,248.3 677.1,152.2" stroke="#00ea7c"/><polyline points="417.0,45.1 503.7,244.8 590.4,166.1 677.1,193.2" stroke="#00ea7c"/><polyline points="417.0,37.0 503.7,215.3 590.4,184.5 677.1,212.4" stroke="#00ea7c"/><polyline points="417.0,40.1 503.7,235.8 590.4,189.5 677.1,183.8" stroke="#00ea92"/><polyline points="417.0,42.3 503.7,176.8 590.4,240.9 677.1,189.2" stroke="#00ea92"/><polyline points="417.0,37.8 503.7,185.0 590.4,200.7 677.1,225.7" stroke="#00ea92"/><polyline points="417.0,37.5 503.7,203.0 590.4,184.9 677.1,223.8" stroke="#00ea92"/><polyline points="417.0,37.4 503.7,195.6 590.4,190.6 677.1,225.5" stroke="#00ea92"/><polyline points="417.0,44.5 503.7,188.1 590.4,245.3 677.1,171.3" stroke="#00ea92"/><polyline points="417.0,46.3 503.7,180.2 590.4,249.7 677.1,173.0" stroke="#00eaa8"/><polyline points="417.0,37.6 503.7,195.3 590.4,189.9 677.1,226.5" stroke="#00eaa8"/><polyline points="417.0,50.3 503.7,182.9 590.4,254.8 677.1,161.2" stroke="#00eaa8"/><polyline points="417.0,40.5 503.7,234.5 590.4,197.9 677.1,176.3" stroke="#00eaa8"/><polyline points="417.0,48.1 503.7,238.3 590.4,212.8 677.1,150.0" stroke="#00eaa8"/><polyline points="417.0,50.4 503.7,243.9 590.4,208.1 677.1,146.8" stroke="#00eaa8"/><polyline points="417.0,53.8 503.7,218.1 590.4,239.9 677.1,137.5" stroke="#00eaa8"/><polyline points="417.0,37.1 503.7,197.4 590.4,190.7 677.1,224.0" stroke="#00eaa8"/><polyline points="417.0,44.4 503.7,177.4 590.4,246.2 677.1,181.1" stroke="#00eaa8"/><polyline points="417.0,47.4 503.7,240.0 590.4,209.1 677.1,152.7" stroke="#00eaa8"/><polyline points="417.0,37.8 503.7,183.3 590.4,203.9 677.1,224.2" stroke="#00eabe"/><polyline points="417.0,36.8 503.7,219.2 590.4,187.3 677.1,205.9" stroke="#00eabe"/><polyline points="417.0,37.5 503.7,207.9 590.4,182.9 677.1,220.9" stroke="#00eabe"/><polyline points="417.0,36.5 503.7,207.8 590.4,188.4 677.1,216.5" stroke="#00eabe"/><polyline points="417.0,38.7 503.7,224.2 590.4,209.2 677.1,177.1" stroke="#00eabe"/><polyline points="417.0,50.5 503.7,194.1 590.4,251.3 677.1,153.3" stroke="#00eabe"/><polyline points="417.0,38.8 503.7,177.2 590.4,225.2 677.1,208.0" stroke="#00eabe"/><polyline points="417.0,39.9 503.7,209.6 590.4,227.2 677.1,172.5" stroke="#00eabe"/><polyline points="417.0,47.0 503.7,241.3 590.4,206.1 677.1,154.8" stroke="#00eabe"/><polyline points="417.0,37.2 503.7,225.0 590.4,195.1 677.1,191.8" stroke="#00eabe"/><polyline points="417.0,37.5 503.7,212.9 590.4,181.4 677.1,217.3" stroke="#00ead4"/><polyline points="417.0,36.9 503.7,219.2 590.4,185.9 677.1,207.1" stroke="#00ead4"/><polyline points="417.0,36.9 503.7,220.9 590.4,187.3 677.1,204.1" stroke="#00ead4"/><polyline points="417.0,40.7 503.7,181.0 590.4,237.2 677.1,190.3" stroke="#00ead4"/><polyline points="417.0,38.1 503.7,223.0 590.4,180.1 677.1,208.0" stroke="#00ead4"/><polyline points="417.0,41.0 503.7,235.5 590.4,198.5 677.1,174.2" stroke="#00ead4"/><polyline points="417.0,36.8 503.7,221.9 590.4,190.9 677.1,199.6" stroke="#00ead4"/><polyline points="417.0,42.7 503.7,208.9 590.4,233.3 677.1,164.3" stroke="#00ead4"/><polyline points="417.0,42.1 503.7,239.1 590.4,195.1 677.1,172.9" stroke="#00ead4"/><polyline points="417.0,37.6 503.7,226.4 590.4,189.8 677.1,195.5" stroke="#00ead4"/><polyline points="417.0,39.2 503.7,177.4 590.4,228.8 677.1,203.8" stroke="#00eaea"/><polyline points="417.0,48.4 503.7,205.5 590.4,243.4 677.1,151.8" stroke="#00eaea"/><polyline points="417.0,41.1 503.7,182.4 590.4,238.6 677.1,187.1" stroke="#00eaea"/><polyline points="417.0,39.9 503.7,186.3 590.4,235.3 677.1,187.6" stroke="#00eaea"/><polyline points="417.0,36.6 503.7,197.0 590.4,194.4 677.1,221.2" stroke="#00eaea"/><polyline points="417.0,40.1 503.7,186.1 590.4,235.8 677.1,187.1" stroke="#00eaea"/><polyline points="417.0,44.1 503.7,206.1 590.4,237.3 677.1,161.7" stroke="#00eaea"/><polyline points="417.0,40.9 503.7,212.7 590.4,227.1 677.1,168.6" stroke="#00eaea"/><polyline points="417.0,41.1 503.7,228.7 590.4,211.1 677.1,168.2" stroke="#00eaea"/><polyline points="417.0,36.8 503.7,222.7 590.4,194.8 677.1,194.8" stroke="#00d4ea"/><polyline points="417.0,43.6 503.7,200.6 590.4,239.4 677.1,165.6" stroke="#00d4ea"/><polyline points="417.0,37.9 503.7,182.6 590.4,203.9 677.1,224.7" stroke="#00d4ea"/><polyline points="417.0,40.0 503.7,185.8 590.4,235.6 677.1,187.7" stroke="#00d4ea"/><polyline points="417.0,38.1 503.7,178.8 590.4,218.5 677.1,213.8" stroke="#00d4ea"/><polyline points="417.0,36.5 503.7,209.9 590.4,188.0 677.1,214.8" stroke="#00d4ea"/><polyline points="417.0,39.4 503.7,178.9 590.4,231.0 677.1,199.9" stroke="#00d4ea"/><polyline points="417.0,38.8 503.7,185.5 590.4,231.3 677.1,193.6" stroke="#00d4ea"/><polyline points="417.0,36.2 503.7,218.8 590.4,195.5 677.1,198.8" stroke="#00d4ea"/><polyline points="417.0,35.9 503.7,213.2 590.4,192.5 677.1,207.6" stroke="#00d4ea"/><polyline points="417.0,35.9 503.7,215.8 590.4,196.2 677.1,201.4" stroke="#00beea"/><polyline points="417.0,38.8 503.7,212.3 590.4,222.1 677.1,175.9" stroke="#00beea"/><polyline points="417.0,38.3 503.7,211.4 590.4,221.4 677.1,178.2" stroke="#00beea"/><polyline points="417.0,41.9 503.7,193.8 590.4,239.0 677.1,174.5" stroke="#00beea"/><polyline points="417.0,39.7 503.7,188.6 590.4,234.6 677.1,186.3" stroke="#00beea"/><polyline points="417.0,38.6 503.7,180.1 590.4,227.4 677.1,203.1" stroke="#00beea"/><polyline points="417.0,36.3 503.7,215.9 590.4,207.2 677.1,189.8" stroke="#00beea"/><polyline points="417.0,35.9 503.7,216.3 590.4,196.2 677.1,200.8" stroke="#00beea"/><polyline points="417.0,37.2 503.7,214.9 590.4,213.8 677.1,183.3" stroke="#00beea"/><polyline points="417.0,36.7 503.7,219.4 590.4,187.8 677.1,205.2" stroke="#00beea"/><polyline points="417.0,37.8 503.7,182.1 590.4,205.8 677.1,223.4" stroke="#00a8ea"/><polyline points="417.0,38.0 503.7,215.1 590.4,217.2 677.1,179.0" stroke="#00a8ea"/><polyline points="417.0,36.5 503.7,204.8 590.4,218.4 677.1,189.5" stroke="#00a8ea"/><polyline points="417.0,38.6 503.7,185.1 590.4,230.0 677.1,195.5" stroke="#00a8ea"/><polyline points="417.0,35.5 503.7,212.5 590.4,199.2 677.1,202.0" stroke="#00a8ea"/><polyline points="417.0,35.3 503.7,205.0 590.4,200.9 677.1,208.0" stroke="#00a8ea"/><polyline points="417.0,37.0 503.7,212.3 590.4,215.8 677.1,184.1" stroke="#00a8ea"/><polyline points="417.0,36.4 503.7,212.8 590.4,211.4 677.1,188.6" stroke="#00a8ea"/><polyline points="417.0,38.1 503.7,194.3 590.4,228.8 677.1,188.0" stroke="#00a8ea"/><polyline points="417.0,38.1 503.7,191.7 590.4,228.8 677.1,190.6" stroke="#00a8ea"/><polyline points="417.0,37.4 503.7,183.0 590.4,208.6 677.1,220.2" stroke="#0092ea"/><polyline points="417.0,35.8 503.7,213.0 590.4,206.6 677.1,193.9" stroke="#0092ea"/><polyline points="417.0,37.8 503.7,188.4 590.4,227.5 677.1,195.5" stroke="#0092ea"/><polyline points="417.0,36.7 503.7,201.8 590.4,221.0 677.1,189.7" stroke="#0092ea"/><polyline points="417.0,35.6 503.7,209.8 590.4,195.6 677.1,208.2" stroke="#007cea"/><polyline points="417.0,37.9 503.7,181.0 590.4,223.0 677.1,207.3" stroke="#007cea"/><polyline points="417.0,35.7 503.7,212.7 590.4,205.9 677.1,194.9" stroke="#007cea"/><polyline points="417.0,36.4 503.7,193.3 590.4,199.5 677.1,220.0" stroke="#0067ea"/><polyline points="417.0,35.3 503.7,205.8 590.4,200.2 677.1,207.8" stroke="#0067ea"/><polyline points="417.0,37.7 503.7,180.2 590.4,215.9 677.1,215.4" stroke="#0067ea"/><polyline points="417.0,37.1 503.7,194.5 590.4,224.4 677.1,193.2" stroke="#0050ea"/><polyline points="417.0,36.7 503.7,189.7 590.4,201.8 677.1,221.1" stroke="#0050ea"/><polyline points="417.0,36.3 503.7,207.9 590.4,215.4 677.1,189.6" stroke="#0050ea"/><polyline points="417.0,35.7 503.7,209.5 590.4,209.4 677.1,194.7" stroke="#0050ea"/><polyline points="417.0,35.4 503.7,208.2 590.4,200.0 677.1,205.7" stroke="#003aea"/><polyline points="417.0,37.2 503.7,194.8 590.4,224.8 677.1,192.5" stroke="#003aea"/><polyline points="417.0,36.6 503.7,198.8 590.4,221.1 677.1,192.8" stroke="#003aea"/><polyline points="417.0,36.1 503.7,204.9 590.4,216.4 677.1,191.8" stroke="#0024ea"/><polyline points="417.0,36.3 503.7,191.5 590.4,203.7 677.1,217.7" stroke="#0024ea"/><polyline points="417.0,36.7 503.7,187.8 590.4,206.3 677.1,218.5" stroke="#0024ea"/><polyline points="417.0,37.8 503.7,182.3 590.4,223.5 677.1,205.7" stroke="#0024ea"/><polyline points="417.0,35.6 503.7,198.7 590.4,201.3 677.1,213.6" stroke="#000eea"/><polyline points="417.0,37.0 503.7,195.9 590.4,224.0 677.1,192.3" stroke="#000eea"/><polyline points="417.0,36.8 503.7,186.3 590.4,208.6 677.1,217.6" stroke="#000eea"/><polyline points="417.0,35.3 503.7,204.4 590.4,201.1 677.1,208.3" stroke="#0700ea"/><polyline points="417.0,37.0 503.7,191.0 590.4,223.2 677.1,198.0" stroke="#0700ea"/><polyline points="417.0,37.0 503.7,193.4 590.4,224.1 677.1,194.6" stroke="#0700ea"/><polyline points="417.0,37.6 503.7,181.5 590.4,220.2 677.1,209.9" stroke="#0700ea"/><polyline points="417.0,37.4 503.7,181.8 590.4,216.5 677.1,213.5" stroke="#1d00ea"/><polyline points="417.0,35.3 503.7,203.9 590.4,208.6 677.1,201.3" stroke="#1d00ea"/><polyline points="417.0,35.6 503.7,204.3 590.4,212.5 677.1,196.7" stroke="#1d00ea"/><polyline points="417.0,35.3 503.7,203.9 590.4,207.0 677.1,203.0" stroke="#1d00ea"/><polyline points="417.0,37.1 503.7,188.7 590.4,223.0 677.1,200.5" stroke="#3300ea"/><polyline points="417.0,35.3 503.7,200.8 590.4,204.7 677.1,208.3" stroke="#3300ea"/><polyline points="417.0,35.9 503.7,201.1 590.4,215.9 677.1,196.4" stroke="#3300ea"/><polyline points="417.0,36.3 503.7,194.5 590.4,219.3 677.1,199.1" stroke="#3300ea"/><polyline points="417.0,35.5 503.7,197.0 590.4,207.6 677.1,209.1" stroke="#4900ea"/><polyline points="417.0,35.8 503.7,197.7 590.4,215.7 677.1,199.9" stroke="#4900ea"/><polyline points="417.0,36.7 503.7,190.2 590.4,220.7 677.1,201.7" stroke="#4900ea"/><polyline points="417.0,35.4 503.7,199.8 590.4,209.8 677.1,204.2" stroke="#4900ea"/><polyline points="417.0,36.2 503.7,190.2 590.4,208.4 677.1,214.4" stroke="#5f00ea"/><polyline points="417.0,37.1 503.7,184.6 590.4,219.7 677.1,207.7" stroke="#5f00ea"/><polyline points="417.0,36.1 503.7,190.5 590.4,208.7 677.1,213.8" stroke="#5f00ea"/><polyline points="417.0,36.1 503.7,194.2 590.4,217.2 677.1,201.7" stroke="#5f00ea"/><polyline points="417.0,37.1 503.7,183.9 590.4,217.7 677.1,210.4" stroke="#7500ea"/><polyline points="417.0,37.0 503.7,185.7 590.4,218.9 677.1,207.7" stroke="#7500ea"/><polyline points="417.0,35.6 503.7,196.8 590.4,212.9 677.1,203.8" stroke="#7500ea"/><polyline points="417.0,35.7 503.7,194.2 590.4,210.0 677.1,209.3" stroke="#7500ea"/><polyline points="417.0,36.6 503.7,188.9 590.4,218.7 677.1,205.1" stroke="#8a00ea"/><polyline points="417.0,36.2 503.7,191.4 590.4,216.6 677.1,205.0" stroke="#8a00ea"/><polyline points="417.0,36.6 503.7,186.9 590.4,216.1 677.1,209.6" stroke="#8a00ea"/><polyline points="417.0,36.4 503.7,189.4 590.4,217.1 677.1,206.3" stroke="#8a00ea"/></g>
<path d="M406.8 35.2V247.0M402.3 35.2H406.8M402.3 77.6H406.8M402.3 120.0H406.8M402.3 162.3H406.8M402.3 204.7H406.8M402.3 247.0H406.8M417.0 278.5H677.1M417.0 278.5V283.0M503.7 278.5V283.0M590.4 278.5V283.0M677.1 278.5V283.0" stroke="#8a8a8a" stroke-width="1" fill="none"/>
<text transform="translate(397.7 36.5) rotate(-90)" text-anchor="middle" font-size="12.5">1.5</text>
<text transform="translate(397.7 80.0) rotate(-90)" text-anchor="middle" font-size="12.5">1.0</text>
<text transform="translate(397.7 120.1) rotate(-90)" text-anchor="middle" font-size="12.5">0.5</text>
<text transform="translate(397.7 162.2) rotate(-90)" text-anchor="middle" font-size="12.5">0.0</text>
<text transform="translate(397.7 208.3) rotate(-90)" text-anchor="middle" font-size="12.5">-0.5</text>
<text transform="translate(397.7 248.2) rotate(-90)" text-anchor="middle" font-size="12.5">-1.0</text>
<text x="418.1" y="299.6" text-anchor="middle" font-size="12">0h</text>
<text x="505.6" y="299.6" text-anchor="middle" font-size="12">12h</text>
<text x="593.2" y="299.6" text-anchor="middle" font-size="12">3d</text>
<text x="675.6" y="299.6" text-anchor="middle" font-size="12">6d</text>
<text x="547.6" y="318.4" text-anchor="middle" font-size="14" textLength="31" lengthAdjust="spacingAndGlyphs">Time</text>
<text x="552.2" y="14.9" text-anchor="middle" font-size="16" textLength="63" lengthAdjust="spacingAndGlyphs">Cluster 2</text>
<text transform="translate(379.5 149.8) rotate(-90)" text-anchor="middle" font-size="14" textLength="124" lengthAdjust="spacingAndGlyphs">Expression changes</text>
<g fill="none" stroke-linecap="round" stroke-linejoin="round" stroke-width="0.70" filter="url(#bl)"><polyline points="51.5,431.2 138.4,513.5 225.2,613.9 312.1,462.5" stroke="#33ea00"/><polyline points="51.5,395.4 138.4,499.0 225.2,550.4 312.1,576.4" stroke="#33ea00"/><polyline points="51.5,451.7 138.4,443.7 225.2,617.2 312.1,508.5" stroke="#33ea00"/><polyline points="51.5,405.0 138.4,510.5 225.2,600.8 312.1,505.0" stroke="#33ea00"/><polyline points="51.5,417.2 138.4,458.5 225.2,563.9 312.1,581.5" stroke="#33ea00"/><polyline points="51.5,441.3 138.4,449.3 225.2,614.1 312.1,516.5" stroke="#33ea00"/><polyline points="51.5,431.6 138.4,468.9 225.2,616.9 312.1,503.8" stroke="#1dea00"/><polyline points="51.5,413.9 138.4,497.7 225.2,609.1 312.1,500.6" stroke="#1dea00"/><polyline points="51.5,405.9 138.4,510.7 225.2,601.7 312.1,502.9" stroke="#1dea00"/><polyline points="51.5,416.8 138.4,470.7 225.2,602.8 312.1,530.9" stroke="#1dea00"/><polyline points="51.5,406.4 138.4,509.7 225.2,602.2 312.1,502.9" stroke="#1dea00"/><polyline points="51.5,424.6 138.4,484.5 225.2,615.6 312.1,496.6" stroke="#1dea00"/><polyline points="51.5,408.2 138.4,506.4 225.2,604.1 312.1,502.4" stroke="#1dea00"/><polyline points="51.5,393.2 138.4,516.8 225.2,582.5 312.1,528.7" stroke="#07ea00"/><polyline points="51.5,408.6 138.4,503.8 225.2,604.5 312.1,504.3" stroke="#07ea00"/><polyline points="51.5,404.1 138.4,514.1 225.2,599.5 312.1,503.4" stroke="#07ea00"/><polyline points="51.5,415.6 138.4,460.3 225.2,566.9 312.1,578.4" stroke="#07ea00"/><polyline points="51.5,393.6 138.4,517.3 225.2,583.4 312.1,526.9" stroke="#07ea00"/><polyline points="51.5,420.2 138.4,477.0 225.2,610.6 312.1,513.4" stroke="#07ea00"/><polyline points="51.5,416.0 138.4,474.8 225.2,604.7 312.1,525.8" stroke="#00ea0e"/><polyline points="51.5,417.2 138.4,460.9 225.2,589.9 312.1,553.2" stroke="#00ea0e"/><polyline points="51.5,397.1 138.4,510.9 225.2,589.7 312.1,523.5" stroke="#00ea0e"/><polyline points="51.5,412.7 138.4,496.9 225.2,608.1 312.1,503.5" stroke="#00ea0e"/><polyline points="51.5,425.6 138.4,447.5 225.2,569.5 312.1,578.6" stroke="#00ea0e"/><polyline points="51.5,406.4 138.4,517.3 225.2,601.2 312.1,496.4" stroke="#00ea0e"/><polyline points="51.5,410.4 138.4,507.6 225.2,605.9 312.1,497.2" stroke="#00ea24"/><polyline points="51.5,407.5 138.4,473.4 225.2,560.0 312.1,580.3" stroke="#00ea24"/><polyline points="51.5,414.6 138.4,474.0 225.2,602.1 312.1,530.5" stroke="#00ea24"/><polyline points="51.5,417.5 138.4,463.0 225.2,595.1 312.1,545.6" stroke="#00ea24"/><polyline points="51.5,418.7 138.4,491.5 225.2,612.4 312.1,498.5" stroke="#00ea24"/><polyline points="51.5,390.7 138.4,516.7 225.2,574.3 312.1,539.5" stroke="#00ea24"/><polyline points="51.5,416.6 138.4,462.7 225.2,592.0 312.1,549.9" stroke="#00ea24"/><polyline points="51.5,407.6 138.4,473.0 225.2,561.9 312.1,578.8" stroke="#00ea3a"/><polyline points="51.5,408.6 138.4,470.6 225.2,567.5 312.1,574.5" stroke="#00ea3a"/><polyline points="51.5,408.1 138.4,472.4 225.2,559.8 312.1,580.8" stroke="#00ea3a"/><polyline points="51.5,411.6 138.4,466.0 225.2,568.1 312.1,575.5" stroke="#00ea3a"/><polyline points="51.5,409.4 138.4,470.0 225.2,561.9 312.1,579.9" stroke="#00ea3a"/><polyline points="51.5,413.3 138.4,463.4 225.2,568.4 312.1,576.0" stroke="#00ea3a"/><polyline points="51.5,436.6 138.4,464.4 225.2,618.4 312.1,501.8" stroke="#00ea50"/><polyline points="51.5,400.1 138.4,505.3 225.2,594.0 312.1,521.8" stroke="#00ea50"/><polyline points="51.5,398.6 138.4,499.6 225.2,588.7 312.1,534.2" stroke="#00ea50"/><polyline points="51.5,410.3 138.4,505.9 225.2,606.0 312.1,499.1" stroke="#00ea50"/><polyline points="51.5,407.6 138.4,472.5 225.2,576.8 312.1,564.3" stroke="#00ea50"/><polyline points="51.5,414.2 138.4,475.4 225.2,602.4 312.1,529.2" stroke="#00ea50"/><polyline points="51.5,399.2 138.4,489.4 225.2,555.0 312.1,577.5" stroke="#00ea50"/><polyline points="51.5,396.4 138.4,496.5 225.2,551.0 312.1,577.3" stroke="#00ea67"/><polyline points="51.5,393.0 138.4,514.0 225.2,581.0 312.1,533.2" stroke="#00ea67"/><polyline points="51.5,398.2 138.4,491.1 225.2,556.8 312.1,575.1" stroke="#00ea67"/><polyline points="51.5,411.5 138.4,467.2 225.2,582.1 312.1,560.5" stroke="#00ea67"/><polyline points="51.5,396.8 138.4,511.5 225.2,589.4 312.1,523.5" stroke="#00ea67"/><polyline points="51.5,411.9 138.4,465.7 225.2,565.8 312.1,577.8" stroke="#00ea67"/><polyline points="51.5,410.8 138.4,472.6 225.2,592.5 312.1,545.3" stroke="#00ea7c"/><polyline points="51.5,390.8 138.4,514.1 225.2,573.0 312.1,543.3" stroke="#00ea7c"/><polyline points="51.5,396.5 138.4,506.3 225.2,587.0 312.1,531.4" stroke="#00ea7c"/><polyline points="51.5,390.9 138.4,516.9 225.2,575.3 312.1,538.1" stroke="#00ea7c"/><polyline points="51.5,413.2 138.4,466.5 225.2,588.7 312.1,552.8" stroke="#00ea7c"/><polyline points="51.5,401.1 138.4,484.4 225.2,561.4 312.1,574.3" stroke="#00ea7c"/><polyline points="51.5,405.6 138.4,481.3 225.2,589.8 312.1,544.4" stroke="#00ea92"/><polyline points="51.5,400.9 138.4,485.6 225.2,556.9 312.1,577.8" stroke="#00ea92"/><polyline points="51.5,404.9 138.4,479.2 225.2,583.5 312.1,553.6" stroke="#00ea92"/><polyline points="51.5,395.9 138.4,506.4 225.2,585.5 312.1,533.5" stroke="#00ea92"/><polyline points="51.5,396.2 138.4,502.7 225.2,584.0 312.1,538.3" stroke="#00ea92"/><polyline points="51.5,397.1 138.4,493.2 225.2,557.6 312.1,573.2" stroke="#00ea92"/><polyline points="51.5,402.7 138.4,481.8 225.2,559.5 312.1,577.3" stroke="#00ea92"/><polyline points="51.5,394.4 138.4,501.3 225.2,551.1 312.1,574.4" stroke="#00eaa8"/><polyline points="51.5,405.1 138.4,477.2 225.2,578.1 312.1,560.7" stroke="#00eaa8"/><polyline points="51.5,399.6 138.4,496.9 225.2,589.2 312.1,535.6" stroke="#00eaa8"/><polyline points="51.5,398.1 138.4,491.1 225.2,557.0 312.1,574.9" stroke="#00eaa8"/><polyline points="51.5,392.6 138.4,505.8 225.2,551.1 312.1,571.7" stroke="#00eaa8"/><polyline points="51.5,392.6 138.4,505.8 225.2,551.2 312.1,571.6" stroke="#00eaa8"/><polyline points="51.5,406.4 138.4,475.9 225.2,581.9 312.1,557.0" stroke="#00eaa8"/><polyline points="51.5,394.6 138.4,499.8 225.2,554.0 312.1,572.7" stroke="#00eaa8"/><polyline points="51.5,395.7 138.4,509.6 225.2,586.5 312.1,529.3" stroke="#00eaa8"/><polyline points="51.5,408.2 138.4,478.9 225.2,593.9 312.1,540.2" stroke="#00eabe"/><polyline points="51.5,409.1 138.4,477.3 225.2,594.4 312.1,540.3" stroke="#00eabe"/><polyline points="51.5,399.3 138.4,488.5 225.2,558.5 312.1,574.9" stroke="#00eabe"/><polyline points="51.5,399.3 138.4,508.1 225.2,593.1 312.1,520.8" stroke="#00eabe"/><polyline points="51.5,396.6 138.4,502.9 225.2,585.5 312.1,536.2" stroke="#00eabe"/><polyline points="51.5,406.2 138.4,474.8 225.2,564.6 312.1,575.5" stroke="#00eabe"/><polyline points="51.5,398.0 138.4,501.8 225.2,588.5 312.1,532.8" stroke="#00eabe"/><polyline points="51.5,404.4 138.4,477.9 225.2,565.7 312.1,573.2" stroke="#00eabe"/><polyline points="51.5,399.8 138.4,496.8 225.2,589.7 312.1,534.9" stroke="#00eabe"/><polyline points="51.5,392.0 138.4,507.3 225.2,551.8 312.1,570.1" stroke="#00ead4"/><polyline points="51.5,390.9 138.4,515.3 225.2,574.4 312.1,540.5" stroke="#00ead4"/><polyline points="51.5,406.4 138.4,478.8 225.2,588.9 312.1,547.0" stroke="#00ead4"/><polyline points="51.5,402.3 138.4,487.1 225.2,587.2 312.1,544.7" stroke="#00ead4"/><polyline points="51.5,398.5 138.4,497.0 225.2,586.2 312.1,539.5" stroke="#00ead4"/><polyline points="51.5,403.0 138.4,480.9 225.2,576.4 312.1,560.8" stroke="#00ead4"/><polyline points="51.5,402.7 138.4,481.3 225.2,562.0 312.1,575.2" stroke="#00ead4"/><polyline points="51.5,405.0 138.4,477.3 225.2,577.2 312.1,561.7" stroke="#00ead4"/><polyline points="51.5,407.0 138.4,475.9 225.2,585.0 312.1,553.3" stroke="#00ead4"/><polyline points="51.5,399.2 138.4,491.5 225.2,582.1 312.1,548.3" stroke="#00eaea"/><polyline points="51.5,405.9 138.4,480.8 225.2,590.2 312.1,544.3" stroke="#00eaea"/><polyline points="51.5,404.2 138.4,479.4 225.2,580.0 312.1,557.5" stroke="#00eaea"/><polyline points="51.5,403.2 138.4,487.9 225.2,590.9 312.1,539.2" stroke="#00eaea"/><polyline points="51.5,400.9 138.4,484.6 225.2,572.5 312.1,563.2" stroke="#00eaea"/><polyline points="51.5,402.1 138.4,486.4 225.2,585.6 312.1,547.1" stroke="#00eaea"/><polyline points="51.5,401.9 138.4,483.3 225.2,577.1 312.1,558.8" stroke="#00eaea"/><polyline points="51.5,396.2 138.4,506.3 225.2,586.3 312.1,532.4" stroke="#00eaea"/><polyline points="51.5,391.6 138.4,508.0 225.2,553.1 312.1,568.4" stroke="#00eaea"/><polyline points="51.5,396.1 138.4,502.3 225.2,583.3 312.1,539.6" stroke="#00d4ea"/><polyline points="51.5,400.1 138.4,486.0 225.2,564.5 312.1,570.5" stroke="#00d4ea"/><polyline points="51.5,400.9 138.4,484.5 225.2,571.8 312.1,564.1" stroke="#00d4ea"/><polyline points="51.5,400.5 138.4,485.1 225.2,567.5 312.1,568.1" stroke="#00d4ea"/><polyline points="51.5,399.1 138.4,492.8 225.2,583.7 312.1,545.6" stroke="#00d4ea"/><polyline points="51.5,401.0 138.4,488.6 225.2,584.9 312.1,546.6" stroke="#00d4ea"/><polyline points="51.5,390.1 138.4,515.9 225.2,571.0 312.1,544.1" stroke="#00d4ea"/><polyline points="51.5,398.1 138.4,496.4 225.2,584.6 312.1,542.1" stroke="#00d4ea"/><polyline points="51.5,397.0 138.4,493.2 225.2,559.9 312.1,571.2" stroke="#00d4ea"/><polyline points="51.5,402.1 138.4,481.9 225.2,569.2 312.1,568.0" stroke="#00beea"/><polyline points="51.5,389.3 138.4,515.0 225.2,556.8 312.1,560.1" stroke="#00beea"/><polyline points="51.5,402.7 138.4,485.2 225.2,585.8 312.1,547.6" stroke="#00beea"/><polyline points="51.5,397.8 138.4,496.7 225.2,583.8 312.1,542.9" stroke="#00beea"/><polyline points="51.5,406.5 138.4,476.7 225.2,584.7 312.1,553.3" stroke="#00beea"/><polyline points="51.5,399.6 138.4,492.7 225.2,585.5 312.1,543.3" stroke="#00beea"/><polyline points="51.5,399.3 138.4,487.8 225.2,564.4 312.1,569.8" stroke="#00beea"/><polyline points="51.5,399.0 138.4,488.5 225.2,563.6 312.1,570.2" stroke="#00beea"/><polyline points="51.5,400.7 138.4,486.5 225.2,579.2 312.1,554.8" stroke="#00beea"/><polyline points="51.5,401.4 138.4,485.0 225.2,579.2 312.1,555.5" stroke="#00a8ea"/><polyline points="51.5,399.1 138.4,489.7 225.2,577.7 312.1,554.7" stroke="#00a8ea"/><polyline points="51.5,398.5 138.4,494.0 225.2,582.8 312.1,545.9" stroke="#00a8ea"/><polyline points="51.5,399.6 138.4,487.4 225.2,573.4 312.1,560.8" stroke="#00a8ea"/><polyline points="51.5,396.0 138.4,499.1 225.2,579.6 312.1,546.5" stroke="#00a8ea"/><polyline points="51.5,397.7 138.4,493.5 225.2,578.5 312.1,551.5" stroke="#00a8ea"/><polyline points="51.5,391.3 138.4,510.6 225.2,571.2 312.1,548.1" stroke="#00a8ea"/><polyline points="51.5,396.5 138.4,494.4 225.2,559.0 312.1,571.3" stroke="#00a8ea"/><polyline points="51.5,400.9 138.4,487.6 225.2,582.6 312.1,550.1" stroke="#00a8ea"/><polyline points="51.5,391.7 138.4,511.4 225.2,574.5 312.1,543.6" stroke="#0092ea"/><polyline points="51.5,397.6 138.4,494.6 225.2,579.9 312.1,549.1" stroke="#0092ea"/><polyline points="51.5,400.6 138.4,485.8 225.2,576.0 312.1,558.8" stroke="#0092ea"/><polyline points="51.5,390.5 138.4,512.4 225.2,568.5 312.1,549.8" stroke="#0092ea"/><polyline points="51.5,398.1 138.4,493.3 225.2,580.2 312.1,549.7" stroke="#0092ea"/><polyline points="51.5,394.1 138.4,500.4 225.2,557.7 312.1,569.0" stroke="#0092ea"/><polyline points="51.5,394.8 138.4,498.7 225.2,557.5 312.1,570.2" stroke="#0092ea"/><polyline points="51.5,396.0 138.4,495.3 225.2,560.7 312.1,569.3" stroke="#007cea"/><polyline points="51.5,399.1 138.4,488.5 225.2,572.5 312.1,561.1" stroke="#007cea"/><polyline points="51.5,391.9 138.4,506.9 225.2,554.7 312.1,567.7" stroke="#007cea"/><polyline points="51.5,399.1 138.4,490.6 225.2,579.8 312.1,551.7" stroke="#007cea"/><polyline points="51.5,398.5 138.4,489.4 225.2,566.8 312.1,566.6" stroke="#007cea"/><polyline points="51.5,396.5 138.4,497.5 225.2,579.7 312.1,547.4" stroke="#007cea"/><polyline points="51.5,389.9 138.4,514.2 225.2,566.7 312.1,550.4" stroke="#007cea"/><polyline points="51.5,397.6 138.4,492.7 225.2,575.8 312.1,555.1" stroke="#0067ea"/><polyline points="51.5,395.4 138.4,500.2 225.2,578.3 312.1,547.3" stroke="#0067ea"/><polyline points="51.5,397.5 138.4,494.2 225.2,578.5 312.1,551.0" stroke="#0067ea"/><polyline points="51.5,394.6 138.4,499.0 225.2,558.5 312.1,569.1" stroke="#0067ea"/><polyline points="51.5,396.4 138.4,496.9 225.2,578.0 312.1,549.9" stroke="#0067ea"/><polyline points="51.5,397.8 138.4,491.0 225.2,568.3 312.1,564.2" stroke="#0067ea"/><polyline points="51.5,392.5 138.4,507.7 225.2,574.4 312.1,546.6" stroke="#0067ea"/><polyline points="51.5,395.4 138.4,496.6 225.2,561.0 312.1,568.2" stroke="#0050ea"/><polyline points="51.5,391.9 138.4,506.5 225.2,556.3 312.1,566.5" stroke="#0050ea"/><polyline points="51.5,396.3 138.4,494.2 225.2,565.6 312.1,565.1" stroke="#0050ea"/><polyline points="51.5,394.2 138.4,499.9 225.2,559.1 312.1,568.0" stroke="#0050ea"/><polyline points="51.5,397.6 138.4,491.5 225.2,569.4 312.1,562.7" stroke="#0050ea"/><polyline points="51.5,398.0 138.4,491.3 225.2,574.4 312.1,557.5" stroke="#0050ea"/><polyline points="51.5,393.0 138.4,503.3 225.2,556.6 312.1,568.2" stroke="#0050ea"/><polyline points="51.5,397.5 138.4,491.6 225.2,564.1 312.1,568.0" stroke="#003aea"/><polyline points="51.5,390.0 138.4,512.7 225.2,564.1 312.1,554.4" stroke="#003aea"/><polyline points="51.5,392.8 138.4,503.9 225.2,556.5 312.1,567.9" stroke="#003aea"/><polyline points="51.5,396.8 138.4,494.6 225.2,575.3 312.1,554.4" stroke="#003aea"/><polyline points="51.5,395.9 138.4,497.3 225.2,575.6 312.1,552.5" stroke="#003aea"/><polyline points="51.5,395.7 138.4,495.7 225.2,563.4 312.1,566.4" stroke="#003aea"/><polyline points="51.5,394.8 138.4,498.2 225.2,561.1 312.1,567.1" stroke="#003aea"/><polyline points="51.5,394.2 138.4,499.8 225.2,559.7 312.1,567.5" stroke="#0024ea"/><polyline points="51.5,394.4 138.4,499.2 225.2,559.8 312.1,567.7" stroke="#0024ea"/><polyline points="51.5,392.7 138.4,503.8 225.2,558.7 312.1,566.0" stroke="#0024ea"/><polyline points="51.5,391.7 138.4,506.9 225.2,557.1 312.1,565.4" stroke="#0024ea"/><polyline points="51.5,394.9 138.4,497.8 225.2,561.3 312.1,567.1" stroke="#0024ea"/><polyline points="51.5,396.4 138.4,494.1 225.2,566.8 312.1,563.9" stroke="#0024ea"/><polyline points="51.5,396.9 138.4,493.2 225.2,569.9 312.1,561.2" stroke="#0024ea"/><polyline points="51.5,395.5 138.4,496.3 225.2,563.7 312.1,565.7" stroke="#000eea"/><polyline points="51.5,392.7 138.4,506.0 225.2,572.5 312.1,550.0" stroke="#000eea"/><polyline points="51.5,393.1 138.4,502.9 225.2,558.8 312.1,566.4" stroke="#000eea"/><polyline points="51.5,393.8 138.4,502.4 225.2,572.9 312.1,552.1" stroke="#000eea"/><polyline points="51.5,390.1 138.4,512.0 225.2,562.2 312.1,556.8" stroke="#000eea"/><polyline points="51.5,391.0 138.4,510.2 225.2,568.2 312.1,551.8" stroke="#000eea"/><polyline points="51.5,396.4 138.4,494.1 225.2,567.5 312.1,563.3" stroke="#0700ea"/><polyline points="51.5,394.8 138.4,499.8 225.2,574.2 312.1,552.4" stroke="#0700ea"/><polyline points="51.5,392.2 138.4,505.4 225.2,558.9 312.1,564.7" stroke="#0700ea"/><polyline points="51.5,395.1 138.4,498.7 225.2,573.4 312.1,554.0" stroke="#0700ea"/><polyline points="51.5,396.3 138.4,494.6 225.2,568.8 312.1,561.6" stroke="#0700ea"/><polyline points="51.5,395.5 138.4,497.3 225.2,572.5 312.1,555.9" stroke="#0700ea"/><polyline points="51.5,394.8 138.4,499.2 225.2,572.2 312.1,555.0" stroke="#0700ea"/><polyline points="51.5,394.5 138.4,498.7 225.2,562.5 312.1,565.4" stroke="#1d00ea"/><polyline points="51.5,395.6 138.4,496.3 225.2,569.3 312.1,559.9" stroke="#1d00ea"/><polyline points="51.5,393.7 138.4,502.9 225.2,573.1 312.1,551.6" stroke="#1d00ea"/><polyline points="51.5,390.6 138.4,510.2 225.2,560.4 312.1,560.0" stroke="#3300ea"/><polyline points="51.5,394.4 138.4,500.2 225.2,571.9 312.1,554.7" stroke="#3300ea"/><polyline points="51.5,394.4 138.4,500.6 225.2,572.9 312.1,553.3" stroke="#3300ea"/><polyline points="51.5,394.8 138.4,498.0 225.2,567.0 312.1,561.3" stroke="#4900ea"/><polyline points="51.5,394.4 138.4,499.2 225.2,564.3 312.1,563.3" stroke="#4900ea"/><polyline points="51.5,391.7 138.4,506.9 225.2,559.7 312.1,562.9" stroke="#4900ea"/><polyline points="51.5,391.1 138.4,509.5 225.2,567.4 312.1,553.1" stroke="#5f00ea"/><polyline points="51.5,392.8 138.4,504.7 225.2,570.4 312.1,553.3" stroke="#5f00ea"/><polyline points="51.5,391.5 138.4,507.2 225.2,560.1 312.1,562.4" stroke="#5f00ea"/><polyline points="51.5,394.5 138.4,499.6 225.2,570.9 312.1,556.3" stroke="#7500ea"/><polyline points="51.5,394.6 138.4,498.7 225.2,567.8 312.1,560.1" stroke="#7500ea"/><polyline points="51.5,391.2 138.4,508.2 225.2,560.4 312.1,561.4" stroke="#7500ea"/><polyline points="51.5,392.3 138.4,504.9 225.2,561.1 312.1,562.9" stroke="#8a00ea"/><polyline points="51.5,393.7 138.4,501.7 225.2,570.0 312.1,555.8" stroke="#8a00ea"/><polyline points="51.5,394.0 138.4,500.3 225.2,564.7 312.1,562.3" stroke="#8a00ea"/><polyline points="51.5,391.3 138.4,507.9 225.2,562.0 312.1,560.0" stroke="#a100ea"/><polyline points="51.5,392.5 138.4,505.1 225.2,568.7 312.1,554.9" stroke="#a100ea"/><polyline points="51.5,392.5 138.4,504.2 225.2,561.8 312.1,562.7" stroke="#a100ea"/><polyline points="51.5,394.0 138.4,500.5 225.2,567.7 312.1,559.0" stroke="#a100ea"/><polyline points="51.5,391.9 138.4,506.8 225.2,567.0 312.1,555.5" stroke="#b700ea"/><polyline points="51.5,393.0 138.4,502.8 225.2,564.3 312.1,561.1" stroke="#cd00ea"/><polyline points="51.5,392.9 138.4,503.6 225.2,567.5 312.1,557.2" stroke="#e300ea"/><polyline points="51.5,392.9 138.4,503.3 225.2,564.2 312.1,560.8" stroke="#e300ea"/><polyline points="51.5,392.6 138.4,504.6 225.2,567.2 312.1,556.8" stroke="#ea00db"/><polyline points="51.5,391.9 138.4,506.0 225.2,563.4 312.1,559.8" stroke="#ea00c5"/><polyline points="51.5,392.1 138.4,505.8 225.2,566.2 312.1,557.1" stroke="#ea00c5"/><polyline points="51.5,392.8 138.4,503.7 225.2,565.2 312.1,559.6" stroke="#ea00af"/></g>
<path d="M41.1 385.3V625.3M36.6 385.3H41.1M36.6 425.3H41.1M36.6 465.3H41.1M36.6 505.3H41.1M36.6 545.3H41.1M36.6 585.3H41.1M36.6 625.3H41.1M51.5 631.3H312.1M51.5 631.3V635.8M138.4 631.3V635.8M225.2 631.3V635.8M312.1 631.3V635.8" stroke="#8a8a8a" stroke-width="1" fill="none"/>
<text transform="translate(30.7 384.7) rotate(-90)" text-anchor="middle" font-size="12.5">1.5</text>
<text transform="translate(30.7 425.0) rotate(-90)" text-anchor="middle" font-size="12.5">1.0</text>
<text transform="translate(30.7 464.7) rotate(-90)" text-anchor="middle" font-size="12.5">0.5</text>
<text transform="translate(30.7 505.4) rotate(-90)" text-anchor="middle" font-size="12.5">0.0</text>
<text transform="translate(30.7 546.5) rotate(-90)" text-anchor="middle" font-size="12.5">-0.5</text>
<text transform="translate(30.7 587.4) rotate(-90)" text-anchor="middle" font-size="12.5">-1.0</text>
<text transform="translate(30.7 626.9) rotate(-90)" text-anchor="middle" font-size="12.5">-1.5</text>
<text x="52.7" y="651.8" text-anchor="middle" font-size="12">0h</text>
<text x="140.5" y="651.8" text-anchor="middle" font-size="12">12h</text>
<text x="227.4" y="651.8" text-anchor="middle" font-size="12">3d</text>
<text x="311.4" y="651.8" text-anchor="middle" font-size="12">6d</text>
<text x="182.0" y="671.4" text-anchor="middle" font-size="14" textLength="31" lengthAdjust="spacingAndGlyphs">Time</text>
<text x="186.7" y="368.1" text-anchor="middle" font-size="16" textLength="63" lengthAdjust="spacingAndGlyphs">Cluster 3</text>
<text transform="translate(15.4 502.8) rotate(-90)" text-anchor="middle" font-size="14" textLength="124" lengthAdjust="spacingAndGlyphs">Expression changes</text>
<g fill="none" stroke-linecap="round" stroke-linejoin="round" stroke-width="0.70" filter="url(#bl)"><polyline points="412.5,397.7 499.9,558.6 587.2,472.4 674.6,572.9" stroke="#33ea00"/><polyline points="412.5,394.0 499.9,557.7 587.2,479.4 674.6,570.5" stroke="#33ea00"/><polyline points="412.5,519.4 499.9,499.5 587.2,392.7 674.6,590.0" stroke="#33ea00"/><polyline points="412.5,396.1 499.9,559.3 587.2,475.1 674.6,571.0" stroke="#33ea00"/><polyline points="412.5,398.9 499.9,553.7 587.2,471.2 674.6,577.8" stroke="#33ea00"/><polyline points="412.5,395.1 499.9,553.0 587.2,478.1 674.6,575.4" stroke="#1dea00"/><polyline points="412.5,495.1 499.9,509.7 587.2,398.8 674.6,598.0" stroke="#1dea00"/><polyline points="412.5,409.0 499.9,581.0 587.2,455.5 674.6,556.1" stroke="#1dea00"/><polyline points="412.5,396.0 499.9,538.0 587.2,481.7 674.6,585.9" stroke="#1dea00"/><polyline points="412.5,454.7 499.9,559.9 587.2,409.1 674.6,577.9" stroke="#1dea00"/><polyline points="412.5,428.4 499.9,582.0 587.2,432.0 674.6,559.2" stroke="#07ea00"/><polyline points="412.5,397.3 499.9,511.9 587.2,496.2 674.6,596.2" stroke="#07ea00"/><polyline points="412.5,400.9 499.9,561.1 587.2,466.7 674.6,572.9" stroke="#07ea00"/><polyline points="412.5,396.7 499.9,514.5 587.2,495.1 674.6,595.3" stroke="#07ea00"/><polyline points="412.5,399.2 499.9,546.9 587.2,472.7 674.6,582.9" stroke="#07ea00"/><polyline points="412.5,402.1 499.9,563.0 587.2,464.6 674.6,571.9" stroke="#00ea0e"/><polyline points="412.5,463.7 499.9,542.1 587.2,406.1 674.6,589.8" stroke="#00ea0e"/><polyline points="412.5,484.4 499.9,514.8 587.2,402.4 674.6,599.9" stroke="#00ea0e"/><polyline points="412.5,402.4 499.9,558.9 587.2,464.7 674.6,575.7" stroke="#00ea0e"/><polyline points="412.5,395.4 499.9,537.2 587.2,483.2 674.6,585.8" stroke="#00ea0e"/><polyline points="412.5,422.5 499.9,567.9 587.2,437.4 674.6,573.8" stroke="#00ea24"/><polyline points="412.5,411.8 499.9,554.6 587.2,452.0 674.6,583.2" stroke="#00ea24"/><polyline points="412.5,430.8 499.9,552.4 587.2,430.8 674.6,587.6" stroke="#00ea24"/><polyline points="412.5,438.5 499.9,563.4 587.2,421.9 674.6,577.9" stroke="#00ea24"/><polyline points="412.5,426.7 499.9,574.4 587.2,432.9 674.6,567.6" stroke="#00ea24"/><polyline points="412.5,426.3 499.9,562.7 587.2,433.8 674.6,578.8" stroke="#00ea3a"/><polyline points="412.5,408.5 499.9,553.6 587.2,456.7 674.6,582.8" stroke="#00ea3a"/><polyline points="412.5,442.4 499.9,559.0 587.2,418.9 674.6,581.3" stroke="#00ea3a"/><polyline points="412.5,422.4 499.9,569.0 587.2,437.5 674.6,572.7" stroke="#00ea3a"/><polyline points="412.5,495.5 499.9,479.4 587.2,415.5 674.6,611.3" stroke="#00ea3a"/><polyline points="412.5,438.1 499.9,455.7 587.2,489.2 674.6,618.6" stroke="#00ea3a"/><polyline points="412.5,508.1 499.9,501.6 587.2,396.3 674.6,595.6" stroke="#00ea50"/><polyline points="412.5,399.5 499.9,554.1 587.2,470.2 674.6,577.8" stroke="#00ea50"/><polyline points="412.5,447.9 499.9,538.0 587.2,419.3 674.6,596.4" stroke="#00ea50"/><polyline points="412.5,406.4 499.9,547.2 587.2,461.4 674.6,586.6" stroke="#00ea50"/><polyline points="412.5,395.9 499.9,535.3 587.2,483.2 674.6,587.2" stroke="#00ea50"/><polyline points="412.5,406.5 499.9,548.1 587.2,461.0 674.6,586.0" stroke="#00ea50"/><polyline points="412.5,403.9 499.9,543.3 587.2,466.5 674.6,587.9" stroke="#00ea67"/><polyline points="412.5,399.8 499.9,550.4 587.2,470.6 674.6,580.8" stroke="#00ea67"/><polyline points="412.5,397.8 499.9,516.8 587.2,491.3 674.6,595.8" stroke="#00ea67"/><polyline points="412.5,483.0 499.9,466.7 587.2,433.1 674.6,618.8" stroke="#00ea67"/><polyline points="412.5,401.2 499.9,501.7 587.2,497.6 674.6,601.0" stroke="#00ea67"/><polyline points="412.5,506.9 499.9,487.1 587.2,404.5 674.6,603.1" stroke="#00ea67"/><polyline points="412.5,400.6 499.9,501.0 587.2,499.4 674.6,600.5" stroke="#00ea7c"/><polyline points="412.5,433.2 499.9,554.2 587.2,428.1 674.6,586.1" stroke="#00ea7c"/><polyline points="412.5,397.2 499.9,527.4 587.2,485.2 674.6,591.8" stroke="#00ea7c"/><polyline points="412.5,438.1 499.9,546.7 587.2,425.3 674.6,591.6" stroke="#00ea7c"/><polyline points="412.5,448.9 499.9,547.9 587.2,415.6 674.6,589.2" stroke="#00ea7c"/><polyline points="412.5,484.0 499.9,496.2 587.2,412.0 674.6,609.4" stroke="#00ea7c"/><polyline points="412.5,424.1 499.9,554.4 587.2,437.5 674.6,585.7" stroke="#00ea92"/><polyline points="412.5,439.0 499.9,550.1 587.2,423.6 674.6,588.9" stroke="#00ea92"/><polyline points="412.5,396.4 499.9,539.3 587.2,480.5 674.6,585.5" stroke="#00ea92"/><polyline points="412.5,406.5 499.9,489.9 587.2,499.7 674.6,605.5" stroke="#00ea92"/><polyline points="412.5,402.1 499.9,498.7 587.2,498.9 674.6,601.9" stroke="#00ea92"/><polyline points="412.5,407.8 499.9,550.1 587.2,458.6 674.6,585.1" stroke="#00ea92"/><polyline points="412.5,413.8 499.9,548.0 587.2,451.2 674.6,588.7" stroke="#00eaa8"/><polyline points="412.5,466.8 499.9,509.8 587.2,416.4 674.6,608.6" stroke="#00eaa8"/><polyline points="412.5,411.1 499.9,546.7 587.2,455.0 674.6,588.8" stroke="#00eaa8"/><polyline points="412.5,401.7 499.9,546.5 587.2,468.7 674.6,584.7" stroke="#00eaa8"/><polyline points="412.5,398.8 499.9,528.6 587.2,481.5 674.6,592.7" stroke="#00eaa8"/><polyline points="412.5,412.6 499.9,483.1 587.2,496.2 674.6,609.7" stroke="#00eaa8"/><polyline points="412.5,399.1 499.9,542.4 587.2,474.3 674.6,585.7" stroke="#00eaa8"/><polyline points="412.5,471.3 499.9,524.2 587.2,406.7 674.6,599.3" stroke="#00eaa8"/><polyline points="412.5,426.3 499.9,463.1 587.2,497.4 674.6,614.8" stroke="#00eaa8"/><polyline points="412.5,461.7 499.9,486.8 587.2,434.5 674.6,618.5" stroke="#00eaa8"/><polyline points="412.5,468.6 499.9,488.2 587.2,427.9 674.6,616.8" stroke="#00eabe"/><polyline points="412.5,427.1 499.9,539.4 587.2,438.5 674.6,596.6" stroke="#00eabe"/><polyline points="412.5,415.2 499.9,545.1 587.2,450.3 674.6,591.0" stroke="#00eabe"/><polyline points="412.5,451.4 499.9,538.6 587.2,416.2 674.6,595.4" stroke="#00eabe"/><polyline points="412.5,466.0 499.9,483.1 587.2,433.6 674.6,618.9" stroke="#00eabe"/><polyline points="412.5,442.6 499.9,451.5 587.2,488.3 674.6,619.2" stroke="#00eabe"/><polyline points="412.5,400.8 499.9,530.9 587.2,477.0 674.6,593.0" stroke="#00eabe"/><polyline points="412.5,447.6 499.9,513.2 587.2,430.3 674.6,610.5" stroke="#00eabe"/><polyline points="412.5,442.9 499.9,526.9 587.2,427.9 674.6,603.9" stroke="#00eabe"/><polyline points="412.5,458.2 499.9,492.0 587.2,433.9 674.6,617.5" stroke="#00eabe"/><polyline points="412.5,400.8 499.9,522.7 587.2,481.7 674.6,596.4" stroke="#00ead4"/><polyline points="412.5,438.9 499.9,529.6 587.2,430.5 674.6,602.6" stroke="#00ead4"/><polyline points="412.5,423.6 499.9,474.2 587.2,488.3 674.6,615.5" stroke="#00ead4"/><polyline points="412.5,455.1 499.9,500.5 587.2,431.1 674.6,614.9" stroke="#00ead4"/><polyline points="412.5,428.2 499.9,545.6 587.2,435.3 674.6,592.5" stroke="#00ead4"/><polyline points="412.5,423.7 499.9,547.1 587.2,439.6 674.6,591.1" stroke="#00ead4"/><polyline points="412.5,434.1 499.9,526.2 587.2,436.7 674.6,604.6" stroke="#00ead4"/><polyline points="412.5,433.6 499.9,536.9 587.2,432.7 674.6,598.4" stroke="#00ead4"/><polyline points="412.5,453.3 499.9,508.2 587.2,428.1 674.6,612.0" stroke="#00ead4"/><polyline points="412.5,410.2 499.9,538.5 587.2,459.2 674.6,593.7" stroke="#00eaea"/><polyline points="412.5,441.6 499.9,524.2 587.2,430.4 674.6,605.5" stroke="#00eaea"/><polyline points="412.5,445.7 499.9,498.1 587.2,441.2 674.6,616.5" stroke="#00eaea"/><polyline points="412.5,401.3 499.9,522.9 587.2,480.8 674.6,596.6" stroke="#00eaea"/><polyline points="412.5,434.4 499.9,534.6 587.2,432.8 674.6,599.8" stroke="#00eaea"/><polyline points="412.5,446.2 499.9,508.5 587.2,434.3 674.6,612.7" stroke="#00eaea"/><polyline points="412.5,404.3 499.9,502.4 587.2,491.3 674.6,603.6" stroke="#00eaea"/><polyline points="412.5,444.6 499.9,512.0 587.2,433.7 674.6,611.2" stroke="#00eaea"/><polyline points="412.5,437.2 499.9,513.0 587.2,440.4 674.6,611.0" stroke="#00eaea"/><polyline points="412.5,403.4 499.9,504.2 587.2,491.3 674.6,602.7" stroke="#00eaea"/><polyline points="412.5,401.8 499.9,511.6 587.2,488.0 674.6,600.3" stroke="#00d4ea"/><polyline points="412.5,447.0 499.9,485.7 587.2,449.1 674.6,619.9" stroke="#00d4ea"/><polyline points="412.5,403.7 499.9,525.0 587.2,475.5 674.6,597.4" stroke="#00d4ea"/><polyline points="412.5,440.4 499.9,514.0 587.2,436.7 674.6,610.5" stroke="#00d4ea"/><polyline points="412.5,448.6 499.9,492.5 587.2,442.4 674.6,618.1" stroke="#00d4ea"/><polyline points="412.5,435.9 499.9,520.8 587.2,437.5 674.6,607.4" stroke="#00d4ea"/><polyline points="412.5,421.3 499.9,527.7 587.2,450.0 674.6,602.5" stroke="#00d4ea"/><polyline points="412.5,407.5 499.9,497.2 587.2,490.4 674.6,606.4" stroke="#00d4ea"/><polyline points="412.5,407.8 499.9,496.1 587.2,491.1 674.6,606.7" stroke="#00d4ea"/><polyline points="412.5,431.5 499.9,518.5 587.2,443.3 674.6,608.3" stroke="#00beea"/><polyline points="412.5,408.0 499.9,531.1 587.2,465.7 674.6,596.8" stroke="#00beea"/><polyline points="412.5,438.9 499.9,480.9 587.2,461.7 674.6,620.1" stroke="#00beea"/><polyline points="412.5,402.5 499.9,511.4 587.2,486.8 674.6,600.8" stroke="#00beea"/><polyline points="412.5,424.6 499.9,525.9 587.2,447.0 674.6,604.0" stroke="#00beea"/><polyline points="412.5,417.2 499.9,483.9 587.2,487.8 674.6,612.7" stroke="#00beea"/><polyline points="412.5,436.6 499.9,515.3 587.2,439.7 674.6,609.9" stroke="#00beea"/><polyline points="412.5,439.4 499.9,490.7 587.2,453.1 674.6,618.4" stroke="#00beea"/><polyline points="412.5,405.5 499.9,525.4 587.2,472.4 674.6,598.2" stroke="#00beea"/><polyline points="412.5,404.3 499.9,515.5 587.2,480.7 674.6,601.1" stroke="#00beea"/><polyline points="412.5,429.5 499.9,478.6 587.2,475.5 674.6,618.1" stroke="#00a8ea"/><polyline points="412.5,433.7 499.9,481.3 587.2,467.5 674.6,619.1" stroke="#00a8ea"/><polyline points="412.5,415.0 499.9,485.8 587.2,489.3 674.6,611.5" stroke="#00a8ea"/><polyline points="412.5,436.4 499.9,492.9 587.2,454.7 674.6,617.6" stroke="#00a8ea"/><polyline points="412.5,407.8 499.9,497.0 587.2,490.2 674.6,606.6" stroke="#00a8ea"/><polyline points="412.5,431.8 499.9,508.6 587.2,448.8 674.6,612.4" stroke="#00a8ea"/><polyline points="412.5,430.2 499.9,513.9 587.2,447.3 674.6,610.2" stroke="#00a8ea"/><polyline points="412.5,438.0 499.9,485.5 587.2,458.9 674.6,619.3" stroke="#00a8ea"/><polyline points="412.5,405.2 499.9,510.1 587.2,483.4 674.6,603.0" stroke="#00a8ea"/><polyline points="412.5,435.8 499.9,493.5 587.2,454.9 674.6,617.4" stroke="#00a8ea"/><polyline points="412.5,410.1 499.9,525.4 587.2,465.7 674.6,600.4" stroke="#0092ea"/><polyline points="412.5,420.8 499.9,521.0 587.2,454.2 674.6,605.6" stroke="#0092ea"/><polyline points="412.5,434.8 499.9,493.0 587.2,456.5 674.6,617.4" stroke="#0092ea"/><polyline points="412.5,409.1 499.9,522.0 587.2,469.1 674.6,601.4" stroke="#0092ea"/><polyline points="412.5,432.5 499.9,502.7 587.2,452.0 674.6,614.5" stroke="#007cea"/><polyline points="412.5,429.7 499.9,511.2 587.2,449.5 674.6,611.2" stroke="#007cea"/><polyline points="412.5,417.4 499.9,523.8 587.2,456.9 674.6,603.5" stroke="#007cea"/><polyline points="412.5,424.8 499.9,515.1 587.2,452.8 674.6,608.9" stroke="#007cea"/><polyline points="412.5,423.9 499.9,484.8 587.2,477.1 674.6,615.9" stroke="#007cea"/><polyline points="412.5,423.5 499.9,514.0 587.2,455.0 674.6,609.1" stroke="#0067ea"/><polyline points="412.5,429.0 499.9,487.1 587.2,468.2 674.6,617.3" stroke="#0067ea"/><polyline points="412.5,417.1 499.9,519.0 587.2,460.0 674.6,605.5" stroke="#0067ea"/><polyline points="412.5,406.8 499.9,505.0 587.2,484.7 674.6,605.1" stroke="#0067ea"/><polyline points="412.5,406.7 499.9,509.5 587.2,481.4 674.6,604.1" stroke="#0050ea"/><polyline points="412.5,429.9 499.9,494.8 587.2,460.7 674.6,616.2" stroke="#0050ea"/><polyline points="412.5,415.9 499.9,519.1 587.2,461.5 674.6,605.2" stroke="#0050ea"/><polyline points="412.5,415.9 499.9,519.4 587.2,461.2 674.6,605.0" stroke="#0050ea"/><polyline points="412.5,429.2 499.9,496.3 587.2,460.4 674.6,615.7" stroke="#0050ea"/><polyline points="412.5,425.0 499.9,506.6 587.2,458.0 674.6,612.0" stroke="#003aea"/><polyline points="412.5,418.6 499.9,518.4 587.2,458.3 674.6,606.2" stroke="#003aea"/><polyline points="412.5,410.6 499.9,499.1 587.2,483.7 674.6,608.2" stroke="#003aea"/><polyline points="412.5,425.2 499.9,492.3 587.2,468.6 674.6,615.5" stroke="#003aea"/><polyline points="412.5,412.3 499.9,516.9 587.2,467.7 674.6,604.7" stroke="#003aea"/><polyline points="412.5,410.7 499.9,514.9 587.2,471.4 674.6,604.7" stroke="#0024ea"/><polyline points="412.5,420.1 499.9,491.7 587.2,476.0 674.6,613.8" stroke="#0024ea"/><polyline points="412.5,422.4 499.9,492.0 587.2,472.6 674.6,614.6" stroke="#0024ea"/><polyline points="412.5,407.8 499.9,511.8 587.2,477.9 674.6,604.1" stroke="#0024ea"/><polyline points="412.5,425.8 499.9,497.0 587.2,464.0 674.6,614.8" stroke="#000eea"/><polyline points="412.5,421.5 499.9,510.0 587.2,460.1 674.6,610.1" stroke="#000eea"/><polyline points="412.5,424.6 499.9,493.0 587.2,468.7 674.6,615.2" stroke="#000eea"/><polyline points="412.5,423.9 499.9,504.2 587.2,461.1 674.6,612.5" stroke="#000eea"/><polyline points="412.5,422.9 499.9,495.6 587.2,468.9 674.6,614.2" stroke="#000eea"/><polyline points="412.5,422.6 499.9,506.0 587.2,461.3 674.6,611.6" stroke="#0700ea"/><polyline points="412.5,422.5 499.9,506.5 587.2,461.2 674.6,611.4" stroke="#0700ea"/><polyline points="412.5,420.9 499.9,493.0 587.2,473.7 674.6,613.9" stroke="#0700ea"/><polyline points="412.5,412.2 499.9,498.7 587.2,481.4 674.6,609.2" stroke="#0700ea"/><polyline points="412.5,413.1 499.9,509.9 587.2,471.3 674.6,607.3" stroke="#0700ea"/><polyline points="412.5,417.3 499.9,496.8 587.2,475.6 674.6,611.9" stroke="#1d00ea"/><polyline points="412.5,419.4 499.9,505.8 587.2,465.7 674.6,610.7" stroke="#1d00ea"/><polyline points="412.5,418.9 499.9,497.4 587.2,472.9 674.6,612.5" stroke="#3300ea"/><polyline points="412.5,415.7 499.9,507.5 587.2,469.5 674.6,609.0" stroke="#3300ea"/><polyline points="412.5,412.5 499.9,504.6 587.2,476.2 674.6,608.3" stroke="#4900ea"/><polyline points="412.5,416.6 499.9,506.5 587.2,468.9 674.6,609.6" stroke="#4900ea"/><polyline points="412.5,416.4 499.9,505.8 587.2,469.7 674.6,609.7" stroke="#5f00ea"/><polyline points="412.5,414.9 499.9,505.5 587.2,472.0 674.6,609.2" stroke="#5f00ea"/></g>
<path d="M402.2 378.0V622.8M397.7 378.0H402.2M397.7 418.8H402.2M397.7 459.6H402.2M397.7 500.4H402.2M397.7 541.2H402.2M397.7 582.0H402.2M397.7 622.8H402.2M412.5 631.3H674.6M412.5 631.3V635.8M499.9 631.3V635.8M587.2 631.3V635.8M674.6 631.3V635.8" stroke="#8a8a8a" stroke-width="1" fill="none"/>
<text transform="translate(392.3 382.8) rotate(-90)" text-anchor="middle" font-size="12.5">1.5</text>
<text transform="translate(392.3 418.9) rotate(-90)" text-anchor="middle" font-size="12.5">1.0</text>
<text transform="translate(392.3 459.4) rotate(-90)" text-anchor="middle" font-size="12.5">0.5</text>
<text transform="translate(392.3 500.3) rotate(-90)" text-anchor="middle" font-size="12.5">0.0</text>
<text transform="translate(392.3 542.1) rotate(-90)" text-anchor="middle" font-size="12.5">-0.5</text>
<text transform="translate(392.3 582.6) rotate(-90)" text-anchor="middle" font-size="12.5">-1.0</text>
<text transform="translate(392.3 622.4) rotate(-90)" text-anchor="middle" font-size="12.5">-1.5</text>
<text x="414.3" y="650.6" text-anchor="middle" font-size="12">0h</text>
<text x="501.5" y="650.6" text-anchor="middle" font-size="12">12h</text>
<text x="589.0" y="650.6" text-anchor="middle" font-size="12">3d</text>
<text x="675.6" y="650.6" text-anchor="middle" font-size="12">6d</text>
<text x="542.9" y="670.1" text-anchor="middle" font-size="14" textLength="31" lengthAdjust="spacingAndGlyphs">Time</text>
<text x="548.2" y="365.1" text-anchor="middle" font-size="16" textLength="63" lengthAdjust="spacingAndGlyphs">Cluster 4</text>
<text transform="translate(376.4 500.9) rotate(-90)" text-anchor="middle" font-size="14" textLength="124" lengthAdjust="spacingAndGlyphs">Expression changes</text>
<g fill="none" stroke-linecap="round" stroke-linejoin="round" stroke-width="0.70" filter="url(#bl)"><polyline points="53.5,873.3 141.0,932.3 228.4,747.4 315.9,883.5" stroke="#33ea00"/><polyline points="53.5,888.9 141.0,902.4 228.4,741.4 315.9,904.0" stroke="#33ea00"/><polyline points="53.5,911.3 141.0,879.3 228.4,742.7 315.9,903.3" stroke="#33ea00"/><polyline points="53.5,918.9 141.0,888.2 228.4,743.0 315.9,886.5" stroke="#1dea00"/><polyline points="53.5,925.3 141.0,875.7 228.4,745.1 315.9,890.5" stroke="#1dea00"/><polyline points="53.5,934.0 141.0,867.4 228.4,748.6 315.9,886.6" stroke="#1dea00"/><polyline points="53.5,924.3 141.0,898.2 228.4,746.1 315.9,867.8" stroke="#07ea00"/><polyline points="53.5,940.6 141.0,836.9 228.4,759.7 315.9,899.5" stroke="#07ea00"/><polyline points="53.5,925.6 141.0,886.6 228.4,744.9 315.9,879.6" stroke="#07ea00"/><polyline points="53.5,953.5 141.0,890.8 228.4,816.3 315.9,776.0" stroke="#00ea0e"/><polyline points="53.5,961.4 141.0,802.0 228.4,792.4 315.9,880.7" stroke="#00ea0e"/><polyline points="53.5,950.4 141.0,792.7 228.4,793.9 315.9,899.7" stroke="#00ea0e"/><polyline points="53.5,966.4 141.0,780.7 228.4,827.9 315.9,861.6" stroke="#00ea24"/><polyline points="53.5,945.5 141.0,904.3 228.4,809.1 315.9,777.7" stroke="#00ea24"/><polyline points="53.5,958.7 141.0,881.9 228.4,817.1 315.9,778.9" stroke="#00ea24"/><polyline points="53.5,955.1 141.0,817.5 228.4,776.2 315.9,887.8" stroke="#00ea3a"/><polyline points="53.5,937.8 141.0,827.3 228.4,763.8 315.9,907.8" stroke="#00ea3a"/><polyline points="53.5,943.9 141.0,852.4 228.4,755.5 315.9,884.8" stroke="#00ea3a"/><polyline points="53.5,962.2 141.0,876.5 228.4,814.5 315.9,783.4" stroke="#00ea3a"/><polyline points="53.5,958.0 141.0,882.6 228.4,818.5 315.9,777.5" stroke="#00ea3a"/><polyline points="53.5,958.3 141.0,813.2 228.4,781.1 315.9,884.0" stroke="#00ea3a"/><polyline points="53.5,963.7 141.0,872.1 228.4,818.3 315.9,782.5" stroke="#00ea3a"/><polyline points="53.5,977.1 141.0,813.6 228.4,826.9 315.9,819.0" stroke="#00ea50"/><polyline points="53.5,962.7 141.0,789.2 228.4,807.2 315.9,877.5" stroke="#00ea50"/><polyline points="53.5,977.1 141.0,820.1 228.4,826.1 315.9,813.3" stroke="#00ea50"/><polyline points="53.5,972.2 141.0,849.8 228.4,821.3 315.9,793.3" stroke="#00ea50"/><polyline points="53.5,936.0 141.0,902.8 228.4,756.6 315.9,841.2" stroke="#00ea50"/><polyline points="53.5,966.3 141.0,866.2 228.4,819.2 315.9,784.8" stroke="#00ea50"/><polyline points="53.5,948.5 141.0,902.3 228.4,796.4 315.9,789.4" stroke="#00ea50"/><polyline points="53.5,935.6 141.0,908.2 228.4,760.9 315.9,831.9" stroke="#00ea50"/><polyline points="53.5,976.8 141.0,824.0 228.4,826.5 315.9,809.3" stroke="#00ea67"/><polyline points="53.5,974.5 141.0,799.7 228.4,820.4 315.9,841.9" stroke="#00ea67"/><polyline points="53.5,974.1 141.0,843.1 228.4,821.4 315.9,798.0" stroke="#00ea67"/><polyline points="53.5,962.7 141.0,874.1 228.4,818.3 315.9,781.5" stroke="#00ea67"/><polyline points="53.5,973.8 141.0,804.0 228.4,810.9 315.9,847.9" stroke="#00ea67"/><polyline points="53.5,971.3 141.0,796.6 228.4,812.9 315.9,855.8" stroke="#00ea67"/><polyline points="53.5,955.8 141.0,848.9 228.4,763.7 315.9,868.2" stroke="#00ea67"/><polyline points="53.5,950.4 141.0,899.6 228.4,791.3 315.9,795.3" stroke="#00ea7c"/><polyline points="53.5,977.2 141.0,819.6 228.4,825.4 315.9,814.4" stroke="#00ea7c"/><polyline points="53.5,974.6 141.0,798.7 228.4,823.1 315.9,840.1" stroke="#00ea7c"/><polyline points="53.5,950.5 141.0,841.1 228.4,762.1 315.9,882.9" stroke="#00ea7c"/><polyline points="53.5,968.1 141.0,862.0 228.4,819.1 315.9,787.4" stroke="#00ea7c"/><polyline points="53.5,946.7 141.0,842.7 228.4,759.6 315.9,887.6" stroke="#00ea7c"/><polyline points="53.5,940.5 141.0,910.8 228.4,808.4 315.9,776.9" stroke="#00ea7c"/><polyline points="53.5,963.2 141.0,873.0 228.4,818.4 315.9,782.0" stroke="#00ea7c"/><polyline points="53.5,977.1 141.0,813.0 228.4,825.3 315.9,821.1" stroke="#00ea92"/><polyline points="53.5,971.7 141.0,851.7 228.4,820.7 315.9,792.5" stroke="#00ea92"/><polyline points="53.5,970.7 141.0,803.6 228.4,803.3 315.9,859.1" stroke="#00ea92"/><polyline points="53.5,977.1 141.0,812.5 228.4,826.3 315.9,820.6" stroke="#00ea92"/><polyline points="53.5,972.5 141.0,803.8 228.4,807.2 315.9,853.2" stroke="#00ea92"/><polyline points="53.5,961.4 141.0,812.5 228.4,784.1 315.9,878.5" stroke="#00ea92"/><polyline points="53.5,966.0 141.0,866.8 228.4,819.4 315.9,784.4" stroke="#00ea92"/><polyline points="53.5,965.3 141.0,869.6 228.4,816.1 315.9,785.6" stroke="#00ea92"/><polyline points="53.5,977.1 141.0,825.1 228.4,823.0 315.9,811.5" stroke="#00eaa8"/><polyline points="53.5,962.6 141.0,877.0 228.4,810.4 315.9,786.7" stroke="#00eaa8"/><polyline points="53.5,938.3 141.0,914.4 228.4,780.1 315.9,803.7" stroke="#00eaa8"/><polyline points="53.5,942.8 141.0,909.5 228.4,784.1 315.9,800.2" stroke="#00eaa8"/><polyline points="53.5,946.4 141.0,881.9 228.4,756.9 315.9,851.5" stroke="#00eaa8"/><polyline points="53.5,971.2 141.0,799.0 228.4,809.5 315.9,856.9" stroke="#00eaa8"/><polyline points="53.5,937.2 141.0,914.8 228.4,776.3 315.9,808.2" stroke="#00eaa8"/><polyline points="53.5,946.7 141.0,858.3 228.4,755.7 315.9,875.9" stroke="#00eaa8"/><polyline points="53.5,951.6 141.0,896.5 228.4,805.9 315.9,782.6" stroke="#00eaa8"/><polyline points="53.5,957.2 141.0,816.3 228.4,778.3 315.9,884.8" stroke="#00eaa8"/><polyline points="53.5,946.4 141.0,905.1 228.4,796.2 315.9,788.9" stroke="#00eaa8"/><polyline points="53.5,969.3 141.0,860.3 228.4,816.0 315.9,791.0" stroke="#00eaa8"/><polyline points="53.5,969.7 141.0,786.3 228.4,826.1 315.9,854.5" stroke="#00eaa8"/><polyline points="53.5,959.1 141.0,881.9 228.4,815.1 315.9,780.5" stroke="#00eaa8"/><polyline points="53.5,975.2 141.0,805.8 228.4,814.1 315.9,841.5" stroke="#00eaa8"/><polyline points="53.5,947.2 141.0,874.2 228.4,755.9 315.9,859.3" stroke="#00eaa8"/><polyline points="53.5,968.5 141.0,798.7 228.4,804.5 315.9,864.9" stroke="#00eaa8"/><polyline points="53.5,945.5 141.0,905.4 228.4,781.4 315.9,804.3" stroke="#00eabe"/><polyline points="53.5,968.4 141.0,818.7 228.4,788.0 315.9,861.5" stroke="#00eabe"/><polyline points="53.5,976.8 141.0,824.0 228.4,826.6 315.9,809.2" stroke="#00eabe"/><polyline points="53.5,959.8 141.0,842.6 228.4,768.6 315.9,865.6" stroke="#00eabe"/><polyline points="53.5,955.4 141.0,890.8 228.4,805.0 315.9,785.4" stroke="#00eabe"/><polyline points="53.5,960.9 141.0,830.2 228.4,773.7 315.9,871.7" stroke="#00eabe"/><polyline points="53.5,977.4 141.0,820.3 228.4,819.1 315.9,819.8" stroke="#00eabe"/><polyline points="53.5,969.8 141.0,858.5 228.4,817.6 315.9,790.7" stroke="#00eabe"/><polyline points="53.5,972.7 141.0,809.2 228.4,802.6 315.9,852.0" stroke="#00eabe"/><polyline points="53.5,962.3 141.0,876.8 228.4,812.9 315.9,784.6" stroke="#00eabe"/><polyline points="53.5,968.5 141.0,861.4 228.4,818.5 315.9,788.2" stroke="#00eabe"/><polyline points="53.5,975.6 141.0,801.0 228.4,829.2 315.9,830.8" stroke="#00eabe"/><polyline points="53.5,951.7 141.0,854.4 228.4,759.5 315.9,871.0" stroke="#00eabe"/><polyline points="53.5,957.9 141.0,831.6 228.4,770.6 315.9,876.5" stroke="#00eabe"/><polyline points="53.5,964.3 141.0,872.0 228.4,815.2 315.9,785.1" stroke="#00eabe"/><polyline points="53.5,951.5 141.0,868.6 228.4,759.0 315.9,857.5" stroke="#00eabe"/><polyline points="53.5,955.4 141.0,889.5 228.4,810.4 315.9,781.2" stroke="#00eabe"/><polyline points="53.5,964.6 141.0,805.9 228.4,792.4 315.9,873.7" stroke="#00eabe"/><polyline points="53.5,977.3 141.0,814.9 228.4,821.0 315.9,823.4" stroke="#00ead4"/><polyline points="53.5,976.3 141.0,811.5 228.4,813.4 315.9,835.4" stroke="#00ead4"/><polyline points="53.5,967.3 141.0,865.3 228.4,815.9 315.9,788.2" stroke="#00ead4"/><polyline points="53.5,976.3 141.0,832.7 228.4,821.5 315.9,806.2" stroke="#00ead4"/><polyline points="53.5,953.5 141.0,894.8 228.4,792.4 315.9,795.9" stroke="#00ead4"/><polyline points="53.5,954.0 141.0,867.7 228.4,761.5 315.9,853.3" stroke="#00ead4"/><polyline points="53.5,956.5 141.0,860.4 228.4,763.4 315.9,856.3" stroke="#00ead4"/><polyline points="53.5,949.6 141.0,900.8 228.4,792.2 315.9,794.0" stroke="#00ead4"/><polyline points="53.5,962.9 141.0,876.5 228.4,809.5 315.9,787.7" stroke="#00ead4"/><polyline points="53.5,976.0 141.0,810.4 228.4,812.8 315.9,837.4" stroke="#00ead4"/><polyline points="53.5,950.0 141.0,857.9 228.4,757.9 315.9,870.9" stroke="#00ead4"/><polyline points="53.5,958.4 141.0,886.4 228.4,801.5 315.9,790.4" stroke="#00ead4"/><polyline points="53.5,976.0 141.0,834.7 228.4,820.4 315.9,805.5" stroke="#00ead4"/><polyline points="53.5,947.2 141.0,882.0 228.4,757.8 315.9,849.6" stroke="#00ead4"/><polyline points="53.5,973.5 141.0,846.3 228.4,819.2 315.9,797.6" stroke="#00ead4"/><polyline points="53.5,950.6 141.0,896.1 228.4,776.7 315.9,813.2" stroke="#00ead4"/><polyline points="53.5,977.2 141.0,813.8 228.4,823.3 315.9,822.2" stroke="#00ead4"/><polyline points="53.5,961.2 141.0,879.6 228.4,810.2 315.9,785.6" stroke="#00ead4"/><polyline points="53.5,973.8 141.0,808.7 228.4,806.0 315.9,848.0" stroke="#00eaea"/><polyline points="53.5,976.7 141.0,830.7 228.4,819.7 315.9,809.6" stroke="#00eaea"/><polyline points="53.5,967.0 141.0,866.4 228.4,814.2 315.9,789.0" stroke="#00eaea"/><polyline points="53.5,973.4 141.0,847.0 228.4,818.8 315.9,797.4" stroke="#00eaea"/><polyline points="53.5,973.4 141.0,846.4 228.4,819.8 315.9,796.9" stroke="#00eaea"/><polyline points="53.5,956.8 141.0,860.6 228.4,763.8 315.9,855.4" stroke="#00eaea"/><polyline points="53.5,964.3 141.0,873.9 228.4,809.0 315.9,789.4" stroke="#00eaea"/><polyline points="53.5,951.6 141.0,896.9 228.4,784.1 315.9,804.1" stroke="#00eaea"/><polyline points="53.5,958.0 141.0,887.4 228.4,796.0 315.9,795.2" stroke="#00eaea"/><polyline points="53.5,955.5 141.0,891.6 228.4,794.8 315.9,794.6" stroke="#00eaea"/><polyline points="53.5,953.9 141.0,879.1 228.4,765.1 315.9,838.5" stroke="#00eaea"/><polyline points="53.5,967.2 141.0,812.8 228.4,790.1 315.9,866.4" stroke="#00eaea"/><polyline points="53.5,960.1 141.0,850.4 228.4,767.6 315.9,858.4" stroke="#00eaea"/><polyline points="53.5,949.5 141.0,888.8 228.4,764.5 315.9,833.8" stroke="#00eaea"/><polyline points="53.5,967.9 141.0,818.0 228.4,787.6 315.9,863.1" stroke="#00eaea"/><polyline points="53.5,955.7 141.0,864.8 228.4,763.0 315.9,853.1" stroke="#00eaea"/><polyline points="53.5,958.4 141.0,886.5 228.4,799.0 315.9,792.6" stroke="#00eaea"/><polyline points="53.5,960.3 141.0,882.8 228.4,802.4 315.9,791.1" stroke="#00d4ea"/><polyline points="53.5,963.2 141.0,844.4 228.4,772.0 315.9,857.1" stroke="#00d4ea"/><polyline points="53.5,973.8 141.0,812.0 228.4,803.0 315.9,847.8" stroke="#00d4ea"/><polyline points="53.5,969.7 141.0,858.9 228.4,816.8 315.9,791.2" stroke="#00d4ea"/><polyline points="53.5,950.7 141.0,898.3 228.4,784.4 315.9,803.1" stroke="#00d4ea"/><polyline points="53.5,967.1 141.0,822.6 228.4,784.0 315.9,862.9" stroke="#00d4ea"/><polyline points="53.5,972.9 141.0,820.6 228.4,795.2 315.9,847.9" stroke="#00d4ea"/><polyline points="53.5,956.8 141.0,889.1 228.4,790.1 315.9,800.6" stroke="#00d4ea"/><polyline points="53.5,958.2 141.0,886.9 228.4,793.2 315.9,798.3" stroke="#00d4ea"/><polyline points="53.5,969.6 141.0,858.9 228.4,817.4 315.9,790.6" stroke="#00d4ea"/><polyline points="53.5,962.9 141.0,849.2 228.4,771.1 315.9,853.3" stroke="#00d4ea"/><polyline points="53.5,962.7 141.0,877.7 228.4,806.0 315.9,790.1" stroke="#00d4ea"/><polyline points="53.5,962.9 141.0,842.8 228.4,771.9 315.9,859.0" stroke="#00d4ea"/><polyline points="53.5,975.7 141.0,812.9 228.4,809.1 315.9,839.0" stroke="#00d4ea"/><polyline points="53.5,971.7 141.0,852.6 228.4,818.6 315.9,793.6" stroke="#00d4ea"/><polyline points="53.5,971.4 141.0,854.3 228.4,816.8 315.9,794.1" stroke="#00d4ea"/><polyline points="53.5,952.5 141.0,893.3 228.4,777.5 315.9,813.3" stroke="#00d4ea"/><polyline points="53.5,962.2 141.0,852.5 228.4,770.2 315.9,851.8" stroke="#00d4ea"/><polyline points="53.5,954.4 141.0,892.6 228.4,785.8 315.9,803.8" stroke="#00beea"/><polyline points="53.5,975.5 141.0,837.3 228.4,821.2 315.9,802.6" stroke="#00beea"/><polyline points="53.5,977.3 141.0,824.5 228.4,819.2 315.9,815.7" stroke="#00beea"/><polyline points="53.5,956.5 141.0,863.0 228.4,763.6 315.9,853.5" stroke="#00beea"/><polyline points="53.5,976.3 141.0,834.1 228.4,818.5 315.9,807.7" stroke="#00beea"/><polyline points="53.5,959.6 141.0,884.4 228.4,799.7 315.9,792.9" stroke="#00beea"/><polyline points="53.5,968.6 141.0,824.7 228.4,785.1 315.9,858.2" stroke="#00beea"/><polyline points="53.5,976.5 141.0,814.9 228.4,811.3 315.9,834.0" stroke="#00beea"/><polyline points="53.5,956.3 141.0,874.9 228.4,766.7 315.9,838.7" stroke="#00beea"/><polyline points="53.5,958.1 141.0,869.6 228.4,767.3 315.9,841.6" stroke="#00beea"/><polyline points="53.5,960.9 141.0,881.7 228.4,802.0 315.9,792.0" stroke="#00beea"/><polyline points="53.5,962.1 141.0,846.7 228.4,770.3 315.9,857.5" stroke="#00beea"/><polyline points="53.5,967.2 141.0,866.7 228.4,812.2 315.9,790.5" stroke="#00beea"/><polyline points="53.5,976.0 141.0,820.8 228.4,805.1 315.9,834.7" stroke="#00beea"/><polyline points="53.5,960.3 141.0,883.1 228.4,796.5 315.9,796.7" stroke="#00beea"/><polyline points="53.5,964.3 141.0,837.3 228.4,774.9 315.9,860.1" stroke="#00beea"/><polyline points="53.5,977.1 141.0,821.1 228.4,812.5 315.9,825.8" stroke="#00beea"/><polyline points="53.5,962.6 141.0,841.8 228.4,771.7 315.9,860.6" stroke="#00beea"/><polyline points="53.5,961.2 141.0,848.9 228.4,769.0 315.9,857.6" stroke="#00a8ea"/><polyline points="53.5,971.4 141.0,817.9 228.4,793.5 315.9,853.8" stroke="#00a8ea"/><polyline points="53.5,973.8 141.0,825.1 228.4,795.4 315.9,842.3" stroke="#00a8ea"/><polyline points="53.5,958.0 141.0,885.9 228.4,785.2 315.9,807.5" stroke="#00a8ea"/><polyline points="53.5,974.3 141.0,843.5 228.4,819.0 315.9,799.8" stroke="#00a8ea"/><polyline points="53.5,955.5 141.0,888.4 228.4,778.9 315.9,813.7" stroke="#00a8ea"/><polyline points="53.5,956.6 141.0,878.8 228.4,769.8 315.9,831.4" stroke="#00a8ea"/><polyline points="53.5,977.3 141.0,822.0 228.4,816.5 315.9,820.8" stroke="#00a8ea"/><polyline points="53.5,973.0 141.0,820.1 228.4,795.7 315.9,847.7" stroke="#00a8ea"/><polyline points="53.5,972.9 141.0,807.6 228.4,804.5 315.9,851.6" stroke="#00a8ea"/><polyline points="53.5,964.8 141.0,873.2 228.4,806.7 315.9,791.9" stroke="#00a8ea"/><polyline points="53.5,958.1 141.0,877.3 228.4,771.7 315.9,829.5" stroke="#00a8ea"/><polyline points="53.5,965.0 141.0,850.1 228.4,774.2 315.9,847.2" stroke="#00a8ea"/><polyline points="53.5,961.0 141.0,881.8 228.4,796.8 315.9,797.0" stroke="#00a8ea"/><polyline points="53.5,975.9 141.0,821.0 228.4,804.4 315.9,835.3" stroke="#00a8ea"/><polyline points="53.5,971.2 141.0,826.6 228.4,788.9 315.9,849.9" stroke="#00a8ea"/><polyline points="53.5,964.9 141.0,844.4 228.4,774.2 315.9,853.1" stroke="#00a8ea"/><polyline points="53.5,958.2 141.0,886.6 228.4,789.4 315.9,802.4" stroke="#0092ea"/><polyline points="53.5,975.0 141.0,818.4 228.4,802.5 315.9,840.7" stroke="#0092ea"/><polyline points="53.5,962.2 141.0,858.2 228.4,770.6 315.9,845.7" stroke="#0092ea"/><polyline points="53.5,959.1 141.0,868.4 228.4,768.4 315.9,840.6" stroke="#0092ea"/><polyline points="53.5,958.5 141.0,874.6 228.4,770.5 315.9,833.1" stroke="#0092ea"/><polyline points="53.5,970.7 141.0,835.0 228.4,785.6 315.9,845.2" stroke="#0092ea"/><polyline points="53.5,965.6 141.0,846.1 228.4,775.2 315.9,849.8" stroke="#0092ea"/><polyline points="53.5,971.6 141.0,826.1 228.4,789.8 315.9,849.0" stroke="#0092ea"/><polyline points="53.5,969.1 141.0,836.3 228.4,782.1 315.9,849.0" stroke="#0092ea"/><polyline points="53.5,959.5 141.0,871.8 228.4,770.8 315.9,834.5" stroke="#0092ea"/><polyline points="53.5,962.6 141.0,844.9 228.4,771.2 315.9,857.9" stroke="#0092ea"/><polyline points="53.5,975.2 141.0,824.3 228.4,800.5 315.9,836.6" stroke="#0092ea"/><polyline points="53.5,964.6 141.0,873.6 228.4,806.8 315.9,791.6" stroke="#0092ea"/><polyline points="53.5,977.1 141.0,827.4 228.4,819.0 315.9,813.2" stroke="#0092ea"/><polyline points="53.5,962.2 141.0,860.8 228.4,771.2 315.9,842.3" stroke="#0092ea"/><polyline points="53.5,976.6 141.0,831.6 228.4,818.9 315.9,809.4" stroke="#0092ea"/><polyline points="53.5,960.0 141.0,872.1 228.4,771.9 315.9,832.6" stroke="#0092ea"/><polyline points="53.5,964.0 141.0,855.4 228.4,773.1 315.9,844.2" stroke="#007cea"/><polyline points="53.5,963.5 141.0,861.6 228.4,773.8 315.9,837.7" stroke="#007cea"/><polyline points="53.5,971.5 141.0,854.6 228.4,814.8 315.9,795.7" stroke="#007cea"/><polyline points="53.5,975.1 141.0,824.1 228.4,800.1 315.9,837.2" stroke="#007cea"/><polyline points="53.5,970.3 141.0,832.8 228.4,785.2 315.9,848.3" stroke="#007cea"/><polyline points="53.5,971.8 141.0,826.2 228.4,790.2 315.9,848.5" stroke="#007cea"/><polyline points="53.5,963.7 141.0,875.8 228.4,805.6 315.9,791.5" stroke="#007cea"/><polyline points="53.5,965.2 141.0,838.4 228.4,775.8 315.9,857.2" stroke="#007cea"/><polyline points="53.5,964.5 141.0,874.4 228.4,803.4 315.9,794.3" stroke="#007cea"/><polyline points="53.5,958.7 141.0,876.0 228.4,772.0 315.9,829.9" stroke="#007cea"/><polyline points="53.5,975.5 141.0,823.5 228.4,802.0 315.9,835.6" stroke="#007cea"/><polyline points="53.5,976.4 141.0,833.7 228.4,817.0 315.9,809.5" stroke="#007cea"/><polyline points="53.5,966.8 141.0,849.5 228.4,777.2 315.9,843.1" stroke="#007cea"/><polyline points="53.5,961.6 141.0,880.6 228.4,799.9 315.9,794.5" stroke="#007cea"/><polyline points="53.5,960.1 141.0,881.1 228.4,783.0 315.9,812.4" stroke="#007cea"/><polyline points="53.5,971.5 141.0,854.0 228.4,816.5 315.9,794.6" stroke="#007cea"/><polyline points="53.5,969.2 141.0,839.8 228.4,781.9 315.9,845.7" stroke="#0067ea"/><polyline points="53.5,971.7 141.0,822.6 228.4,791.6 315.9,850.7" stroke="#0067ea"/><polyline points="53.5,975.3 141.0,824.0 228.4,800.8 315.9,836.5" stroke="#0067ea"/><polyline points="53.5,966.1 141.0,870.5 228.4,806.8 315.9,793.3" stroke="#0067ea"/><polyline points="53.5,977.0 141.0,822.4 228.4,811.3 315.9,825.8" stroke="#0067ea"/><polyline points="53.5,966.4 141.0,850.6 228.4,776.7 315.9,842.9" stroke="#0067ea"/><polyline points="53.5,967.4 141.0,867.2 228.4,807.8 315.9,794.2" stroke="#0067ea"/><polyline points="53.5,958.3 141.0,875.5 228.4,770.8 315.9,831.9" stroke="#0067ea"/><polyline points="53.5,976.7 141.0,831.9 228.4,814.9 315.9,813.1" stroke="#0067ea"/><polyline points="53.5,975.6 141.0,837.4 228.4,819.5 315.9,804.1" stroke="#0067ea"/><polyline points="53.5,960.1 141.0,877.0 228.4,776.5 315.9,823.0" stroke="#0067ea"/><polyline points="53.5,974.4 141.0,844.2 228.4,816.7 315.9,801.3" stroke="#0067ea"/><polyline points="53.5,963.8 141.0,875.8 228.4,804.2 315.9,792.8" stroke="#0067ea"/><polyline points="53.5,971.3 141.0,837.3 228.4,786.5 315.9,841.5" stroke="#0067ea"/><polyline points="53.5,971.2 141.0,856.0 228.4,813.6 315.9,795.8" stroke="#0067ea"/><polyline points="53.5,968.6 141.0,836.9 228.4,781.2 315.9,849.8" stroke="#0067ea"/><polyline points="53.5,958.5 141.0,880.2 228.4,775.9 315.9,822.0" stroke="#0050ea"/><polyline points="53.5,966.1 141.0,850.2 228.4,776.0 315.9,844.3" stroke="#0050ea"/><polyline points="53.5,959.5 141.0,882.4 228.4,783.5 315.9,811.1" stroke="#0050ea"/><polyline points="53.5,964.9 141.0,873.9 228.4,798.9 315.9,798.9" stroke="#0050ea"/><polyline points="53.5,964.2 141.0,875.4 228.4,797.6 315.9,799.4" stroke="#0050ea"/><polyline points="53.5,962.2 141.0,865.7 228.4,772.8 315.9,835.9" stroke="#0050ea"/><polyline points="53.5,965.4 141.0,872.5 228.4,803.2 315.9,795.5" stroke="#0050ea"/><polyline points="53.5,956.6 141.0,884.7 228.4,776.2 315.9,819.0" stroke="#0050ea"/><polyline points="53.5,976.4 141.0,834.4 228.4,814.7 315.9,811.2" stroke="#0050ea"/><polyline points="53.5,964.9 141.0,858.0 228.4,775.3 315.9,838.4" stroke="#0050ea"/><polyline points="53.5,968.4 141.0,864.7 228.4,808.3 315.9,795.2" stroke="#0050ea"/><polyline points="53.5,962.9 141.0,877.7 228.4,792.5 315.9,803.5" stroke="#0050ea"/><polyline points="53.5,973.8 141.0,846.6 228.4,815.8 315.9,800.3" stroke="#0050ea"/><polyline points="53.5,962.5 141.0,874.4 228.4,781.1 315.9,818.6" stroke="#0050ea"/><polyline points="53.5,968.1 141.0,865.6 228.4,807.7 315.9,795.3" stroke="#0050ea"/><polyline points="53.5,977.2 141.0,825.8 228.4,814.1 315.9,819.4" stroke="#0050ea"/><polyline points="53.5,974.7 141.0,842.8 228.4,816.3 315.9,802.7" stroke="#0050ea"/><polyline points="53.5,962.4 141.0,876.2 228.4,783.7 315.9,814.4" stroke="#003aea"/><polyline points="53.5,974.5 141.0,844.4 228.4,814.8 315.9,802.9" stroke="#003aea"/><polyline points="53.5,966.3 141.0,851.9 228.4,776.7 315.9,841.7" stroke="#003aea"/><polyline points="53.5,962.2 141.0,879.5 228.4,798.1 315.9,796.8" stroke="#003aea"/><polyline points="53.5,961.6 141.0,871.8 228.4,775.4 315.9,827.8" stroke="#003aea"/><polyline points="53.5,965.2 141.0,873.2 228.4,799.6 315.9,798.7" stroke="#003aea"/><polyline points="53.5,968.2 141.0,848.8 228.4,780.1 315.9,839.5" stroke="#003aea"/><polyline points="53.5,963.8 141.0,867.0 228.4,777.4 315.9,828.4" stroke="#003aea"/><polyline points="53.5,969.5 141.0,839.9 228.4,782.3 315.9,844.9" stroke="#003aea"/><polyline points="53.5,975.5 141.0,828.4 228.4,800.6 315.9,832.1" stroke="#003aea"/><polyline points="53.5,963.5 141.0,867.2 228.4,776.9 315.9,829.0" stroke="#003aea"/><polyline points="53.5,965.7 141.0,872.0 228.4,798.2 315.9,800.8" stroke="#003aea"/><polyline points="53.5,963.7 141.0,875.9 228.4,792.1 315.9,804.9" stroke="#003aea"/><polyline points="53.5,974.3 141.0,845.2 228.4,815.1 315.9,802.1" stroke="#003aea"/><polyline points="53.5,962.6 141.0,875.2 228.4,783.1 315.9,815.7" stroke="#003aea"/><polyline points="53.5,962.5 141.0,874.9 228.4,781.9 315.9,817.3" stroke="#003aea"/><polyline points="53.5,963.0 141.0,873.9 228.4,782.4 315.9,817.3" stroke="#0024ea"/><polyline points="53.5,976.6 141.0,828.5 228.4,807.7 315.9,823.7" stroke="#0024ea"/><polyline points="53.5,976.5 141.0,833.9 228.4,812.7 315.9,813.5" stroke="#0024ea"/><polyline points="53.5,968.3 141.0,850.3 228.4,780.6 315.9,837.3" stroke="#0024ea"/><polyline points="53.5,976.7 141.0,830.9 228.4,810.3 315.9,818.7" stroke="#0024ea"/><polyline points="53.5,972.0 141.0,838.2 228.4,788.2 315.9,838.3" stroke="#0024ea"/><polyline points="53.5,974.5 141.0,844.2 228.4,814.3 315.9,803.5" stroke="#0024ea"/><polyline points="53.5,974.1 141.0,828.8 228.4,795.4 315.9,838.2" stroke="#0024ea"/><polyline points="53.5,965.7 141.0,861.0 228.4,778.4 315.9,831.5" stroke="#0024ea"/><polyline points="53.5,976.2 141.0,836.1 228.4,813.1 315.9,811.2" stroke="#0024ea"/><polyline points="53.5,961.2 141.0,877.1 228.4,780.3 315.9,818.0" stroke="#0024ea"/><polyline points="53.5,963.7 141.0,870.8 228.4,780.6 315.9,821.6" stroke="#0024ea"/><polyline points="53.5,976.1 141.0,825.5 228.4,804.3 315.9,830.6" stroke="#0024ea"/><polyline points="53.5,974.6 141.0,844.1 228.4,813.6 315.9,804.3" stroke="#0024ea"/><polyline points="53.5,964.7 141.0,871.3 228.4,785.9 315.9,814.7" stroke="#0024ea"/><polyline points="53.5,976.6 141.0,832.4 228.4,810.5 315.9,817.1" stroke="#0024ea"/><polyline points="53.5,970.5 141.0,859.0 228.4,809.2 315.9,797.9" stroke="#0024ea"/><polyline points="53.5,963.5 141.0,873.0 228.4,783.0 315.9,817.2" stroke="#000eea"/><polyline points="53.5,964.3 141.0,869.9 228.4,781.9 315.9,820.4" stroke="#000eea"/><polyline points="53.5,963.9 141.0,873.8 228.4,786.7 315.9,812.3" stroke="#000eea"/><polyline points="53.5,964.8 141.0,871.8 228.4,787.4 315.9,812.6" stroke="#000eea"/><polyline points="53.5,976.3 141.0,833.8 228.4,807.4 315.9,819.2" stroke="#000eea"/><polyline points="53.5,974.3 141.0,845.5 228.4,813.5 315.9,803.4" stroke="#000eea"/><polyline points="53.5,967.0 141.0,861.5 228.4,782.6 315.9,825.6" stroke="#000eea"/><polyline points="53.5,976.1 141.0,836.3 228.4,812.7 315.9,811.5" stroke="#000eea"/><polyline points="53.5,966.8 141.0,869.0 228.4,795.3 315.9,805.5" stroke="#000eea"/><polyline points="53.5,966.1 141.0,870.4 228.4,793.6 315.9,806.5" stroke="#000eea"/><polyline points="53.5,964.7 141.0,867.2 228.4,780.3 315.9,824.4" stroke="#000eea"/><polyline points="53.5,967.6 141.0,863.1 228.4,786.4 315.9,819.4" stroke="#000eea"/><polyline points="53.5,971.0 141.0,844.0 228.4,786.0 315.9,835.6" stroke="#000eea"/><polyline points="53.5,965.1 141.0,868.0 228.4,782.6 315.9,820.9" stroke="#000eea"/><polyline points="53.5,967.6 141.0,861.4 228.4,784.4 315.9,823.3" stroke="#000eea"/><polyline points="53.5,974.0 141.0,837.9 228.4,794.9 315.9,829.8" stroke="#000eea"/><polyline points="53.5,966.4 141.0,865.7 228.4,784.6 315.9,819.8" stroke="#0700ea"/><polyline points="53.5,972.3 141.0,853.2 228.4,810.8 315.9,800.2" stroke="#0700ea"/><polyline points="53.5,965.4 141.0,867.5 228.4,782.9 315.9,820.8" stroke="#0700ea"/><polyline points="53.5,967.0 141.0,868.9 228.4,798.7 315.9,802.1" stroke="#0700ea"/><polyline points="53.5,969.0 141.0,863.7 228.4,803.9 315.9,800.1" stroke="#0700ea"/><polyline points="53.5,968.5 141.0,865.2 228.4,800.3 315.9,802.7" stroke="#0700ea"/><polyline points="53.5,969.9 141.0,861.1 228.4,805.1 315.9,800.5" stroke="#0700ea"/><polyline points="53.5,970.1 141.0,847.7 228.4,784.5 315.9,834.3" stroke="#0700ea"/><polyline points="53.5,976.2 141.0,835.7 228.4,809.1 315.9,815.7" stroke="#0700ea"/><polyline points="53.5,974.4 141.0,836.7 228.4,796.3 315.9,829.2" stroke="#0700ea"/><polyline points="53.5,974.7 141.0,843.9 228.4,812.3 315.9,805.7" stroke="#0700ea"/><polyline points="53.5,968.3 141.0,865.5 228.4,799.9 315.9,802.9" stroke="#0700ea"/><polyline points="53.5,966.8 141.0,868.6 228.4,793.4 315.9,807.7" stroke="#0700ea"/><polyline points="53.5,965.7 141.0,870.5 228.4,790.2 315.9,810.2" stroke="#0700ea"/><polyline points="53.5,975.4 141.0,835.5 228.4,800.7 315.9,825.0" stroke="#0700ea"/><polyline points="53.5,968.5 141.0,856.3 228.4,783.3 315.9,828.6" stroke="#0700ea"/><polyline points="53.5,972.1 141.0,846.0 228.4,790.2 315.9,828.2" stroke="#0700ea"/><polyline points="53.5,971.5 141.0,846.4 228.4,788.1 315.9,830.6" stroke="#1d00ea"/><polyline points="53.5,973.6 141.0,840.7 228.4,794.0 315.9,828.3" stroke="#1d00ea"/><polyline points="53.5,975.3 141.0,841.2 228.4,813.6 315.9,806.6" stroke="#1d00ea"/><polyline points="53.5,967.7 141.0,867.1 228.4,798.2 315.9,803.7" stroke="#1d00ea"/><polyline points="53.5,975.4 141.0,835.9 228.4,801.1 315.9,824.1" stroke="#1d00ea"/><polyline points="53.5,970.5 141.0,859.4 228.4,807.1 315.9,799.7" stroke="#1d00ea"/><polyline points="53.5,967.5 141.0,866.9 228.4,794.1 315.9,808.1" stroke="#3300ea"/><polyline points="53.5,968.6 141.0,859.6 228.4,786.5 315.9,821.9" stroke="#3300ea"/><polyline points="53.5,975.8 141.0,836.2 228.4,805.0 315.9,819.6" stroke="#3300ea"/><polyline points="53.5,975.2 141.0,841.7 228.4,811.2 315.9,808.5" stroke="#3300ea"/><polyline points="53.5,971.5 141.0,856.2 228.4,808.3 315.9,800.7" stroke="#3300ea"/><polyline points="53.5,971.1 141.0,857.3 228.4,808.1 315.9,800.1" stroke="#3300ea"/><polyline points="53.5,975.8 141.0,837.2 228.4,806.5 315.9,817.0" stroke="#3300ea"/><polyline points="53.5,967.4 141.0,867.3 228.4,793.8 315.9,808.2" stroke="#4900ea"/><polyline points="53.5,967.6 141.0,866.6 228.4,793.6 315.9,808.9" stroke="#4900ea"/><polyline points="53.5,971.5 141.0,848.4 228.4,789.1 315.9,827.6" stroke="#4900ea"/><polyline points="53.5,975.8 141.0,836.3 228.4,804.8 315.9,819.8" stroke="#4900ea"/><polyline points="53.5,974.4 141.0,839.3 228.4,797.1 315.9,825.8" stroke="#4900ea"/><polyline points="53.5,967.9 141.0,863.4 228.4,788.5 315.9,816.7" stroke="#4900ea"/><polyline points="53.5,973.5 141.0,843.0 228.4,794.3 315.9,825.8" stroke="#4900ea"/><polyline points="53.5,968.4 141.0,863.9 228.4,792.4 315.9,811.9" stroke="#5f00ea"/><polyline points="53.5,968.8 141.0,861.4 228.4,789.8 315.9,816.6" stroke="#5f00ea"/><polyline points="53.5,972.6 141.0,852.5 228.4,809.4 315.9,802.1" stroke="#5f00ea"/><polyline points="53.5,971.2 141.0,851.6 228.4,790.1 315.9,823.7" stroke="#5f00ea"/><polyline points="53.5,975.5 141.0,839.4 228.4,806.6 315.9,815.0" stroke="#5f00ea"/><polyline points="53.5,969.9 141.0,855.0 228.4,787.3 315.9,824.4" stroke="#5f00ea"/><polyline points="53.5,968.6 141.0,861.3 228.4,788.5 315.9,818.2" stroke="#5f00ea"/><polyline points="53.5,974.8 141.0,840.2 228.4,799.9 315.9,821.7" stroke="#7500ea"/><polyline points="53.5,969.1 141.0,863.3 228.4,799.2 315.9,805.0" stroke="#7500ea"/><polyline points="53.5,969.0 141.0,861.2 228.4,791.0 315.9,815.3" stroke="#7500ea"/><polyline points="53.5,975.6 141.0,839.0 228.4,805.9 315.9,816.1" stroke="#7500ea"/><polyline points="53.5,969.2 141.0,862.8 228.4,797.5 315.9,807.0" stroke="#7500ea"/><polyline points="53.5,969.8 141.0,861.4 228.4,799.6 315.9,805.8" stroke="#7500ea"/><polyline points="53.5,970.4 141.0,854.5 228.4,789.3 315.9,822.3" stroke="#7500ea"/><polyline points="53.5,970.6 141.0,859.4 228.4,803.8 315.9,802.8" stroke="#8a00ea"/><polyline points="53.5,975.2 141.0,839.5 228.4,802.6 315.9,819.3" stroke="#8a00ea"/><polyline points="53.5,972.5 141.0,853.0 228.4,807.7 315.9,803.4" stroke="#8a00ea"/><polyline points="53.5,975.1 141.0,839.6 228.4,802.1 315.9,819.8" stroke="#8a00ea"/><polyline points="53.5,973.4 141.0,844.8 228.4,795.0 315.9,823.5" stroke="#8a00ea"/><polyline points="53.5,975.1 141.0,842.5 228.4,808.4 315.9,810.6" stroke="#8a00ea"/><polyline points="53.5,974.9 141.0,843.6 228.4,809.7 315.9,808.4" stroke="#8a00ea"/><polyline points="53.5,969.6 141.0,862.0 228.4,800.1 315.9,804.9" stroke="#a100ea"/><polyline points="53.5,975.1 141.0,842.1 228.4,807.8 315.9,811.5" stroke="#a100ea"/><polyline points="53.5,973.0 141.0,846.4 228.4,794.3 315.9,823.0" stroke="#a100ea"/><polyline points="53.5,971.1 141.0,854.5 228.4,792.6 315.9,818.4" stroke="#a100ea"/><polyline points="53.5,970.8 141.0,855.9 228.4,792.6 315.9,817.3" stroke="#a100ea"/><polyline points="53.5,975.0 141.0,841.2 228.4,803.3 315.9,817.1" stroke="#a100ea"/><polyline points="53.5,975.3 141.0,840.2 228.4,805.1 315.9,815.9" stroke="#a100ea"/><polyline points="53.5,971.9 141.0,851.1 228.4,792.8 315.9,820.7" stroke="#b700ea"/><polyline points="53.5,972.1 141.0,854.4 228.4,806.4 315.9,803.6" stroke="#b700ea"/><polyline points="53.5,971.6 141.0,856.0 228.4,804.3 315.9,804.7" stroke="#b700ea"/><polyline points="53.5,970.1 141.0,858.9 228.4,793.7 315.9,813.9" stroke="#cd00ea"/><polyline points="53.5,970.4 141.0,859.3 228.4,798.1 315.9,808.8" stroke="#cd00ea"/><polyline points="53.5,972.6 141.0,852.9 228.4,806.1 315.9,805.0" stroke="#cd00ea"/><polyline points="53.5,974.6 141.0,844.8 228.4,807.7 315.9,809.5" stroke="#e300ea"/><polyline points="53.5,972.9 141.0,851.8 228.4,806.3 315.9,805.6" stroke="#e300ea"/><polyline points="53.5,972.4 141.0,853.6 228.4,806.2 315.9,804.4" stroke="#ea00db"/><polyline points="53.5,971.8 141.0,855.6 228.4,803.5 315.9,805.8" stroke="#ea00db"/><polyline points="53.5,971.6 141.0,853.3 228.4,793.9 315.9,817.9" stroke="#ea00db"/><polyline points="53.5,972.9 141.0,851.5 228.4,806.5 315.9,805.7" stroke="#ea00c5"/><polyline points="53.5,972.0 141.0,854.8 228.4,804.0 315.9,805.8" stroke="#ea00c5"/><polyline points="53.5,974.6 141.0,844.3 228.4,804.9 315.9,812.8" stroke="#ea00c5"/><polyline points="53.5,972.9 141.0,851.6 228.4,806.2 315.9,805.9" stroke="#ea00af"/><polyline points="53.5,971.2 141.0,856.5 228.4,797.8 315.9,811.1" stroke="#ea00af"/><polyline points="53.5,972.8 141.0,849.7 228.4,797.3 315.9,816.8" stroke="#ea0099"/><polyline points="53.5,974.0 141.0,846.8 228.4,804.0 315.9,811.8" stroke="#ea0099"/><polyline points="53.5,973.8 141.0,848.2 228.4,804.4 315.9,810.2" stroke="#ea0099"/></g>
<path d="M42.7 740.9V977.4M38.2 740.9H42.7M38.2 780.3H42.7M38.2 819.7H42.7M38.2 859.1H42.7M38.2 898.6H42.7M38.2 938.0H42.7M38.2 977.4H42.7M53.5 986.4H315.9M53.5 986.4V990.9M141.0 986.4V990.9M228.4 986.4V990.9M315.9 986.4V990.9" stroke="#8a8a8a" stroke-width="1" fill="none"/>
<text transform="translate(33.3 742.1) rotate(-90)" text-anchor="middle" font-size="12.5">1.5</text>
<text transform="translate(33.3 779.4) rotate(-90)" text-anchor="middle" font-size="12.5">1.0</text>
<text transform="translate(33.3 819.4) rotate(-90)" text-anchor="middle" font-size="12.5">0.5</text>
<text transform="translate(33.3 860.0) rotate(-90)" text-anchor="middle" font-size="12.5">0.0</text>
<text transform="translate(33.3 898.0) rotate(-90)" text-anchor="middle" font-size="12.5">-0.5</text>
<text transform="translate(33.3 938.5) rotate(-90)" text-anchor="middle" font-size="12.5">-1.0</text>
<text transform="translate(33.3 978.6) rotate(-90)" text-anchor="middle" font-size="12.5">-1.5</text>
<text x="54.4" y="1004.6" text-anchor="middle" font-size="12">0h</text>
<text x="142.3" y="1004.6" text-anchor="middle" font-size="12">12h</text>
<text x="229.5" y="1004.6" text-anchor="middle" font-size="12">3d</text>
<text x="315.6" y="1004.6" text-anchor="middle" font-size="12">6d</text>
<text x="183.7" y="1024.1" text-anchor="middle" font-size="14" textLength="31" lengthAdjust="spacingAndGlyphs">Time</text>
<text x="188.6" y="719.7" text-anchor="middle" font-size="16" textLength="63" lengthAdjust="spacingAndGlyphs">Cluster 5</text>
<text transform="translate(17.1 855.2) rotate(-90)" text-anchor="middle" font-size="14" textLength="124" lengthAdjust="spacingAndGlyphs">Expression changes</text>
<g fill="none" stroke-linecap="round" stroke-linejoin="round" stroke-width="0.70" filter="url(#bl)"><polyline points="415.0,772.9 502.7,819.3 590.3,915.7 678.0,958.5" stroke="#33ea00"/><polyline points="415.0,787.3 502.7,806.6 590.3,902.4 678.0,970.1" stroke="#33ea00"/><polyline points="415.0,744.2 502.7,911.8 590.3,874.7 678.0,935.8" stroke="#33ea00"/><polyline points="415.0,794.0 502.7,798.3 590.3,905.0 678.0,969.1" stroke="#33ea00"/><polyline points="415.0,746.0 502.7,908.0 590.3,871.0 678.0,941.4" stroke="#33ea00"/><polyline points="415.0,741.7 502.7,897.5 590.3,892.3 678.0,934.9" stroke="#33ea00"/><polyline points="415.0,774.5 502.7,819.4 590.3,909.2 678.0,963.3" stroke="#33ea00"/><polyline points="415.0,750.6 502.7,899.3 590.3,864.3 678.0,952.3" stroke="#1dea00"/><polyline points="415.0,780.4 502.7,811.3 590.3,911.2 678.0,963.6" stroke="#1dea00"/><polyline points="415.0,776.2 502.7,822.0 590.3,898.0 678.0,970.2" stroke="#1dea00"/><polyline points="415.0,778.2 502.7,813.0 590.3,914.1 678.0,961.1" stroke="#1dea00"/><polyline points="415.0,788.2 502.7,804.0 590.3,906.5 678.0,967.7" stroke="#1dea00"/><polyline points="415.0,747.9 502.7,901.5 590.3,869.4 678.0,947.6" stroke="#1dea00"/><polyline points="415.0,746.4 502.7,898.8 590.3,875.1 678.0,946.1" stroke="#07ea00"/><polyline points="415.0,765.9 502.7,830.6 590.3,911.7 678.0,958.3" stroke="#07ea00"/><polyline points="415.0,747.9 502.7,863.9 590.3,913.2 678.0,941.5" stroke="#07ea00"/><polyline points="415.0,758.5 502.7,876.2 590.3,864.6 678.0,967.1" stroke="#07ea00"/><polyline points="415.0,742.9 502.7,892.8 590.3,891.4 678.0,939.2" stroke="#07ea00"/><polyline points="415.0,768.8 502.7,829.0 590.3,905.1 678.0,963.6" stroke="#07ea00"/><polyline points="415.0,744.3 502.7,904.1 590.3,878.1 678.0,940.0" stroke="#07ea00"/><polyline points="415.0,782.2 502.7,816.6 590.3,893.5 678.0,974.0" stroke="#00ea0e"/><polyline points="415.0,746.2 502.7,919.2 590.3,866.5 678.0,934.5" stroke="#00ea0e"/><polyline points="415.0,764.5 502.7,832.0 590.3,913.6 678.0,956.3" stroke="#00ea0e"/><polyline points="415.0,746.8 502.7,907.8 590.3,868.8 678.0,943.0" stroke="#00ea0e"/><polyline points="415.0,744.1 502.7,875.7 590.3,909.7 678.0,936.9" stroke="#00ea0e"/><polyline points="415.0,761.1 502.7,837.5 590.3,913.2 678.0,954.5" stroke="#00ea0e"/><polyline points="415.0,758.7 502.7,840.3 590.3,917.0 678.0,950.4" stroke="#00ea0e"/><polyline points="415.0,772.3 502.7,835.8 590.3,883.2 678.0,975.1" stroke="#00ea24"/><polyline points="415.0,742.6 502.7,888.1 590.3,898.1 678.0,937.6" stroke="#00ea24"/><polyline points="415.0,749.8 502.7,898.7 590.3,866.3 678.0,951.6" stroke="#00ea24"/><polyline points="415.0,754.2 502.7,850.8 590.3,910.9 678.0,950.5" stroke="#00ea24"/><polyline points="415.0,747.0 502.7,903.8 590.3,870.5 678.0,945.2" stroke="#00ea24"/><polyline points="415.0,749.7 502.7,898.7 590.3,866.6 678.0,951.4" stroke="#00ea24"/><polyline points="415.0,744.1 502.7,907.4 590.3,876.7 678.0,938.1" stroke="#00ea3a"/><polyline points="415.0,766.6 502.7,831.2 590.3,907.4 678.0,961.2" stroke="#00ea3a"/><polyline points="415.0,772.1 502.7,820.0 590.3,917.1 678.0,957.3" stroke="#00ea3a"/><polyline points="415.0,755.6 502.7,847.1 590.3,913.6 678.0,950.1" stroke="#00ea3a"/><polyline points="415.0,752.1 502.7,897.7 590.3,861.8 678.0,954.8" stroke="#00ea3a"/><polyline points="415.0,746.5 502.7,899.0 590.3,874.8 678.0,946.2" stroke="#00ea3a"/><polyline points="415.0,760.6 502.7,840.2 590.3,908.4 678.0,957.2" stroke="#00ea3a"/><polyline points="415.0,757.8 502.7,842.9 590.3,914.4 678.0,951.4" stroke="#00ea3a"/><polyline points="415.0,770.0 502.7,837.1 590.3,886.6 678.0,972.8" stroke="#00ea50"/><polyline points="415.0,774.8 502.7,826.1 590.3,893.6 678.0,971.9" stroke="#00ea50"/><polyline points="415.0,747.0 502.7,902.7 590.3,871.0 678.0,945.7" stroke="#00ea50"/><polyline points="415.0,769.2 502.7,834.7 590.3,892.4 678.0,970.1" stroke="#00ea50"/><polyline points="415.0,760.1 502.7,840.9 590.3,908.8 678.0,956.6" stroke="#00ea50"/><polyline points="415.0,749.6 502.7,896.0 590.3,868.7 678.0,952.1" stroke="#00ea50"/><polyline points="415.0,743.9 502.7,878.8 590.3,905.0 678.0,938.7" stroke="#00ea50"/><polyline points="415.0,749.3 502.7,895.1 590.3,869.9 678.0,952.1" stroke="#00ea50"/><polyline points="415.0,752.9 502.7,852.3 590.3,914.2 678.0,947.0" stroke="#00ea67"/><polyline points="415.0,760.7 502.7,840.9 590.3,906.5 678.0,958.3" stroke="#00ea67"/><polyline points="415.0,760.1 502.7,840.9 590.3,908.6 678.0,956.7" stroke="#00ea67"/><polyline points="415.0,753.0 502.7,890.8 590.3,864.4 678.0,958.2" stroke="#00ea67"/><polyline points="415.0,749.0 502.7,898.9 590.3,868.2 678.0,950.3" stroke="#00ea67"/><polyline points="415.0,753.2 502.7,889.2 590.3,865.1 678.0,958.9" stroke="#00ea67"/><polyline points="415.0,746.3 502.7,900.2 590.3,874.4 678.0,945.5" stroke="#00ea67"/><polyline points="415.0,747.6 502.7,893.6 590.3,875.5 678.0,949.7" stroke="#00ea7c"/><polyline points="415.0,747.5 502.7,865.4 590.3,911.8 678.0,941.7" stroke="#00ea7c"/><polyline points="415.0,753.2 502.7,889.2 590.3,865.1 678.0,958.8" stroke="#00ea7c"/><polyline points="415.0,769.8 502.7,834.9 590.3,890.5 678.0,971.2" stroke="#00ea7c"/><polyline points="415.0,745.4 502.7,871.5 590.3,910.9 678.0,938.7" stroke="#00ea7c"/><polyline points="415.0,762.2 502.7,857.9 590.3,875.7 678.0,970.6" stroke="#00ea7c"/><polyline points="415.0,756.8 502.7,844.8 590.3,913.9 678.0,950.9" stroke="#00ea7c"/><polyline points="415.0,745.2 502.7,902.5 590.3,876.1 678.0,942.5" stroke="#00ea7c"/><polyline points="415.0,762.4 502.7,838.9 590.3,904.7 678.0,960.4" stroke="#00ea92"/><polyline points="415.0,756.9 502.7,880.4 590.3,864.3 678.0,964.8" stroke="#00ea92"/><polyline points="415.0,767.7 502.7,830.3 590.3,905.4 678.0,962.9" stroke="#00ea92"/><polyline points="415.0,764.1 502.7,845.7 590.3,887.6 678.0,969.0" stroke="#00ea92"/><polyline points="415.0,754.8 502.7,886.4 590.3,863.7 678.0,961.4" stroke="#00ea92"/><polyline points="415.0,762.3 502.7,864.2 590.3,868.5 678.0,971.4" stroke="#00ea92"/><polyline points="415.0,763.2 502.7,857.1 590.3,874.4 678.0,971.7" stroke="#00ea92"/><polyline points="415.0,749.5 502.7,860.9 590.3,910.7 678.0,945.3" stroke="#00eaa8"/><polyline points="415.0,768.1 502.7,833.6 590.3,897.4 678.0,967.3" stroke="#00eaa8"/><polyline points="415.0,754.2 502.7,882.2 590.3,868.6 678.0,961.4" stroke="#00eaa8"/><polyline points="415.0,763.2 502.7,836.8 590.3,906.6 678.0,959.8" stroke="#00eaa8"/><polyline points="415.0,758.4 502.7,874.1 590.3,866.7 678.0,967.2" stroke="#00eaa8"/><polyline points="415.0,759.0 502.7,843.9 590.3,906.3 678.0,957.2" stroke="#00eaa8"/><polyline points="415.0,764.1 502.7,852.6 590.3,878.0 678.0,971.7" stroke="#00eaa8"/><polyline points="415.0,751.6 502.7,887.9 590.3,869.7 678.0,957.1" stroke="#00eaa8"/><polyline points="415.0,763.6 502.7,852.1 590.3,879.7 678.0,970.9" stroke="#00eaa8"/><polyline points="415.0,755.0 502.7,848.7 590.3,912.5 678.0,950.2" stroke="#00eaa8"/><polyline points="415.0,764.4 502.7,847.1 590.3,884.7 678.0,970.2" stroke="#00eaa8"/><polyline points="415.0,745.1 502.7,893.9 590.3,882.7 678.0,944.7" stroke="#00eabe"/><polyline points="415.0,765.3 502.7,848.9 590.3,880.2 678.0,972.0" stroke="#00eabe"/><polyline points="415.0,755.3 502.7,849.4 590.3,909.0 678.0,952.6" stroke="#00eabe"/><polyline points="415.0,752.0 502.7,855.5 590.3,910.7 678.0,948.3" stroke="#00eabe"/><polyline points="415.0,765.5 502.7,839.1 590.3,894.6 678.0,967.2" stroke="#00eabe"/><polyline points="415.0,764.4 502.7,842.4 590.3,892.0 678.0,967.6" stroke="#00eabe"/><polyline points="415.0,753.0 502.7,853.8 590.3,909.4 678.0,950.2" stroke="#00eabe"/><polyline points="415.0,760.6 502.7,843.3 590.3,901.7 678.0,960.8" stroke="#00eabe"/><polyline points="415.0,753.0 502.7,884.1 590.3,869.7 678.0,959.6" stroke="#00eabe"/><polyline points="415.0,757.9 502.7,845.3 590.3,907.6 678.0,955.6" stroke="#00eabe"/><polyline points="415.0,746.0 502.7,894.7 590.3,879.1 678.0,946.5" stroke="#00ead4"/><polyline points="415.0,766.8 502.7,838.7 590.3,891.8 678.0,969.1" stroke="#00ead4"/><polyline points="415.0,758.1 502.7,845.5 590.3,906.3 678.0,956.5" stroke="#00ead4"/><polyline points="415.0,745.4 502.7,892.1 590.3,883.1 678.0,945.7" stroke="#00ead4"/><polyline points="415.0,750.5 502.7,886.5 590.3,873.7 678.0,955.7" stroke="#00ead4"/><polyline points="415.0,757.1 502.7,873.9 590.3,869.7 678.0,965.7" stroke="#00ead4"/><polyline points="415.0,759.2 502.7,842.3 590.3,909.4 678.0,955.5" stroke="#00ead4"/><polyline points="415.0,752.5 502.7,854.9 590.3,909.3 678.0,949.7" stroke="#00ead4"/><polyline points="415.0,763.1 502.7,844.2 590.3,892.5 678.0,966.6" stroke="#00ead4"/><polyline points="415.0,761.5 502.7,858.7 590.3,876.2 678.0,970.0" stroke="#00ead4"/><polyline points="415.0,760.3 502.7,845.0 590.3,899.5 678.0,961.6" stroke="#00ead4"/><polyline points="415.0,749.2 502.7,893.6 590.3,871.4 678.0,952.2" stroke="#00eaea"/><polyline points="415.0,745.6 502.7,889.9 590.3,884.3 678.0,946.6" stroke="#00eaea"/><polyline points="415.0,758.2 502.7,865.2 590.3,876.3 678.0,966.7" stroke="#00eaea"/><polyline points="415.0,757.0 502.7,872.2 590.3,871.4 678.0,965.7" stroke="#00eaea"/><polyline points="415.0,759.4 502.7,865.8 590.3,872.8 678.0,968.3" stroke="#00eaea"/><polyline points="415.0,760.2 502.7,843.6 590.3,902.4 678.0,960.2" stroke="#00eaea"/><polyline points="415.0,755.9 502.7,849.4 590.3,906.7 678.0,954.4" stroke="#00eaea"/><polyline points="415.0,758.1 502.7,869.6 590.3,871.7 678.0,967.0" stroke="#00eaea"/><polyline points="415.0,751.2 502.7,885.6 590.3,872.7 678.0,957.0" stroke="#00eaea"/><polyline points="415.0,752.9 502.7,854.2 590.3,908.9 678.0,950.4" stroke="#00eaea"/><polyline points="415.0,754.6 502.7,851.4 590.3,907.5 678.0,952.9" stroke="#00d4ea"/><polyline points="415.0,745.7 502.7,873.9 590.3,903.8 678.0,943.0" stroke="#00d4ea"/><polyline points="415.0,743.6 502.7,892.6 590.3,889.1 678.0,941.1" stroke="#00d4ea"/><polyline points="415.0,745.4 502.7,874.0 590.3,905.2 678.0,941.8" stroke="#00d4ea"/><polyline points="415.0,746.3 502.7,871.2 590.3,905.7 678.0,943.2" stroke="#00d4ea"/><polyline points="415.0,761.5 502.7,853.1 590.3,883.5 678.0,968.4" stroke="#00d4ea"/><polyline points="415.0,760.1 502.7,861.1 590.3,876.6 678.0,968.6" stroke="#00d4ea"/><polyline points="415.0,761.6 502.7,845.8 590.3,894.1 678.0,965.0" stroke="#00d4ea"/><polyline points="415.0,748.2 502.7,888.9 590.3,877.6 678.0,951.7" stroke="#00d4ea"/><polyline points="415.0,744.3 502.7,881.1 590.3,899.2 678.0,941.8" stroke="#00d4ea"/><polyline points="415.0,745.8 502.7,888.7 590.3,884.9 678.0,947.0" stroke="#00d4ea"/><polyline points="415.0,747.3 502.7,887.9 590.3,881.1 678.0,950.1" stroke="#00beea"/><polyline points="415.0,756.1 502.7,851.7 590.3,901.1 678.0,957.5" stroke="#00beea"/><polyline points="415.0,758.3 502.7,866.8 590.3,874.2 678.0,967.1" stroke="#00beea"/><polyline points="415.0,745.8 502.7,872.9 590.3,905.1 678.0,942.5" stroke="#00beea"/><polyline points="415.0,752.2 502.7,883.5 590.3,872.0 678.0,958.7" stroke="#00beea"/><polyline points="415.0,758.3 502.7,850.6 590.3,895.8 678.0,961.7" stroke="#00beea"/><polyline points="415.0,745.9 502.7,890.5 590.3,883.0 678.0,947.0" stroke="#00beea"/><polyline points="415.0,753.0 502.7,880.1 590.3,873.2 678.0,960.1" stroke="#00beea"/><polyline points="415.0,745.6 502.7,875.5 590.3,901.7 678.0,943.6" stroke="#00beea"/><polyline points="415.0,754.4 502.7,877.2 590.3,872.5 678.0,962.3" stroke="#00beea"/><polyline points="415.0,756.4 502.7,867.9 590.3,877.4 678.0,964.7" stroke="#00a8ea"/><polyline points="415.0,744.6 502.7,880.0 590.3,899.3 678.0,942.4" stroke="#00a8ea"/><polyline points="415.0,752.7 502.7,879.0 590.3,874.8 678.0,959.8" stroke="#00a8ea"/><polyline points="415.0,746.4 502.7,890.6 590.3,881.4 678.0,948.0" stroke="#00a8ea"/><polyline points="415.0,758.6 502.7,859.7 590.3,881.8 678.0,966.3" stroke="#00a8ea"/><polyline points="415.0,746.1 502.7,890.5 590.3,882.4 678.0,947.4" stroke="#00a8ea"/><polyline points="415.0,758.7 502.7,850.6 590.3,894.5 678.0,962.6" stroke="#00a8ea"/><polyline points="415.0,747.5 502.7,885.7 590.3,882.5 678.0,950.7" stroke="#00a8ea"/><polyline points="415.0,744.5 502.7,882.6 590.3,896.4 678.0,942.9" stroke="#00a8ea"/><polyline points="415.0,758.1 502.7,852.6 590.3,893.0 678.0,962.6" stroke="#00a8ea"/><polyline points="415.0,747.8 502.7,890.1 590.3,877.8 678.0,950.7" stroke="#00a8ea"/><polyline points="415.0,748.0 502.7,887.9 590.3,879.1 678.0,951.4" stroke="#0092ea"/><polyline points="415.0,758.2 502.7,852.4 590.3,893.2 678.0,962.6" stroke="#0092ea"/><polyline points="415.0,749.7 502.7,885.3 590.3,876.6 678.0,954.8" stroke="#0092ea"/><polyline points="415.0,754.0 502.7,855.7 590.3,901.3 678.0,955.4" stroke="#0092ea"/><polyline points="415.0,745.4 502.7,877.3 590.3,899.7 678.0,944.0" stroke="#0092ea"/><polyline points="415.0,758.2 502.7,850.4 590.3,896.3 678.0,961.4" stroke="#0092ea"/><polyline points="415.0,744.9 502.7,881.8 590.3,895.8 678.0,944.0" stroke="#0092ea"/><polyline points="415.0,754.7 502.7,874.5 590.3,874.6 678.0,962.7" stroke="#007cea"/><polyline points="415.0,760.2 502.7,850.6 590.3,890.4 678.0,965.2" stroke="#007cea"/><polyline points="415.0,749.1 502.7,864.1 590.3,906.0 678.0,947.3" stroke="#007cea"/><polyline points="415.0,745.0 502.7,881.3 590.3,895.8 678.0,944.3" stroke="#007cea"/><polyline points="415.0,746.1 502.7,874.4 590.3,901.2 678.0,944.7" stroke="#007cea"/><polyline points="415.0,749.8 502.7,883.1 590.3,878.5 678.0,955.0" stroke="#007cea"/><polyline points="415.0,753.8 502.7,875.2 590.3,875.9 678.0,961.4" stroke="#0067ea"/><polyline points="415.0,751.2 502.7,881.2 590.3,876.6 678.0,957.4" stroke="#0067ea"/><polyline points="415.0,754.1 502.7,854.7 590.3,902.7 678.0,954.8" stroke="#0067ea"/><polyline points="415.0,752.7 502.7,857.1 590.3,903.9 678.0,952.7" stroke="#0067ea"/><polyline points="415.0,753.5 502.7,855.9 590.3,903.0 678.0,954.1" stroke="#0067ea"/><polyline points="415.0,750.2 502.7,881.7 590.3,878.6 678.0,955.9" stroke="#0067ea"/><polyline points="415.0,746.5 502.7,885.1 590.3,886.3 678.0,948.5" stroke="#0067ea"/><polyline points="415.0,757.2 502.7,858.7 590.3,886.6 678.0,963.8" stroke="#0050ea"/><polyline points="415.0,745.4 502.7,878.0 590.3,898.9 678.0,944.1" stroke="#0050ea"/><polyline points="415.0,748.8 502.7,885.4 590.3,878.9 678.0,953.2" stroke="#0050ea"/><polyline points="415.0,752.6 502.7,875.8 590.3,878.3 678.0,959.7" stroke="#0050ea"/><polyline points="415.0,754.0 502.7,855.7 590.3,901.2 678.0,955.5" stroke="#0050ea"/><polyline points="415.0,756.6 502.7,858.7 590.3,888.4 678.0,962.7" stroke="#0050ea"/><polyline points="415.0,750.2 502.7,879.7 590.3,880.6 678.0,955.9" stroke="#0050ea"/><polyline points="415.0,753.6 502.7,856.5 590.3,901.4 678.0,954.9" stroke="#003aea"/><polyline points="415.0,754.2 502.7,856.1 590.3,900.0 678.0,956.1" stroke="#003aea"/><polyline points="415.0,747.5 502.7,869.4 590.3,903.3 678.0,946.2" stroke="#003aea"/><polyline points="415.0,749.7 502.7,880.1 590.3,881.8 678.0,954.9" stroke="#003aea"/><polyline points="415.0,747.0 502.7,881.9 590.3,888.0 678.0,949.5" stroke="#003aea"/><polyline points="415.0,747.4 502.7,870.5 590.3,901.7 678.0,946.8" stroke="#003aea"/><polyline points="415.0,753.4 502.7,857.9 590.3,899.7 678.0,955.4" stroke="#0024ea"/><polyline points="415.0,757.1 502.7,857.0 590.3,889.4 678.0,963.0" stroke="#0024ea"/><polyline points="415.0,755.6 502.7,854.3 590.3,898.1 678.0,958.3" stroke="#0024ea"/><polyline points="415.0,754.7 502.7,867.1 590.3,882.5 678.0,962.1" stroke="#0024ea"/><polyline points="415.0,756.4 502.7,858.6 590.3,889.0 678.0,962.4" stroke="#0024ea"/><polyline points="415.0,754.6 502.7,866.7 590.3,883.5 678.0,961.7" stroke="#0024ea"/><polyline points="415.0,755.5 502.7,862.2 590.3,886.7 678.0,962.1" stroke="#0024ea"/><polyline points="415.0,753.7 502.7,858.1 590.3,898.1 678.0,956.5" stroke="#000eea"/><polyline points="415.0,753.2 502.7,871.2 590.3,881.7 678.0,960.3" stroke="#000eea"/><polyline points="415.0,749.9 502.7,877.9 590.3,883.3 678.0,955.3" stroke="#000eea"/><polyline points="415.0,746.5 502.7,875.9 590.3,897.3 678.0,946.7" stroke="#000eea"/><polyline points="415.0,756.5 502.7,859.1 590.3,887.9 678.0,962.8" stroke="#000eea"/><polyline points="415.0,749.4 502.7,879.9 590.3,882.9 678.0,954.3" stroke="#000eea"/><polyline points="415.0,746.9 502.7,873.5 590.3,899.2 678.0,946.8" stroke="#000eea"/><polyline points="415.0,754.1 502.7,866.6 590.3,884.8 678.0,960.9" stroke="#0700ea"/><polyline points="415.0,748.1 502.7,878.6 590.3,887.9 678.0,951.7" stroke="#0700ea"/><polyline points="415.0,747.7 502.7,879.3 590.3,888.5 678.0,950.9" stroke="#0700ea"/><polyline points="415.0,749.7 502.7,865.2 590.3,901.4 678.0,950.2" stroke="#0700ea"/><polyline points="415.0,747.0 502.7,878.3 590.3,892.2 678.0,948.9" stroke="#0700ea"/><polyline points="415.0,747.8 502.7,879.8 590.3,887.6 678.0,951.1" stroke="#0700ea"/><polyline points="415.0,753.5 502.7,869.8 590.3,882.5 678.0,960.6" stroke="#1d00ea"/><polyline points="415.0,752.6 502.7,872.3 590.3,882.0 678.0,959.5" stroke="#1d00ea"/><polyline points="415.0,747.4 502.7,876.9 590.3,892.6 678.0,949.5" stroke="#1d00ea"/><polyline points="415.0,751.7 502.7,872.8 590.3,884.0 678.0,957.9" stroke="#3300ea"/><polyline points="415.0,747.4 502.7,879.1 590.3,889.6 678.0,950.2" stroke="#3300ea"/><polyline points="415.0,751.4 502.7,862.3 590.3,899.6 678.0,953.2" stroke="#3300ea"/><polyline points="415.0,749.4 502.7,877.2 590.3,885.5 678.0,954.3" stroke="#4900ea"/><polyline points="415.0,749.6 502.7,877.0 590.3,885.2 678.0,954.6" stroke="#4900ea"/><polyline points="415.0,747.5 502.7,879.6 590.3,888.8 678.0,950.5" stroke="#5f00ea"/><polyline points="415.0,753.9 502.7,862.9 590.3,890.3 678.0,959.3" stroke="#5f00ea"/><polyline points="415.0,747.1 502.7,876.6 590.3,893.9 678.0,948.8" stroke="#5f00ea"/><polyline points="415.0,750.5 502.7,875.2 590.3,884.7 678.0,956.0" stroke="#7500ea"/><polyline points="415.0,752.7 502.7,868.3 590.3,886.5 678.0,958.8" stroke="#7500ea"/><polyline points="415.0,747.8 502.7,873.2 590.3,895.8 678.0,949.5" stroke="#8a00ea"/><polyline points="415.0,751.1 502.7,864.3 590.3,897.2 678.0,953.8" stroke="#8a00ea"/><polyline points="415.0,751.0 502.7,873.1 590.3,885.6 678.0,956.6" stroke="#8a00ea"/><polyline points="415.0,752.9 502.7,865.4 590.3,889.9 678.0,958.3" stroke="#a100ea"/><polyline points="415.0,748.9 502.7,875.5 590.3,889.1 678.0,952.9" stroke="#a100ea"/><polyline points="415.0,751.2 502.7,870.8 590.3,887.7 678.0,956.6" stroke="#b700ea"/><polyline points="415.0,750.7 502.7,872.2 590.3,887.6 678.0,955.9" stroke="#b700ea"/><polyline points="415.0,748.4 502.7,873.5 590.3,893.5 678.0,951.0" stroke="#cd00ea"/><polyline points="415.0,749.1 502.7,873.2 590.3,891.4 678.0,952.7" stroke="#e300ea"/><polyline points="415.0,750.8 502.7,870.1 590.3,889.9 678.0,955.6" stroke="#ea00db"/><polyline points="415.0,750.4 502.7,870.3 590.3,891.0 678.0,954.7" stroke="#ea00db"/><polyline points="415.0,749.4 502.7,871.2 590.3,893.1 678.0,952.7" stroke="#ea00c5"/></g>
<path d="M404.6 738.5V952.0M400.1 738.5H404.6M400.1 781.2H404.6M400.1 823.9H404.6M400.1 866.6H404.6M400.1 909.3H404.6M400.1 952.0H404.6M415.0 986.5H678.0M415.0 986.5V991.0M502.7 986.5V991.0M590.3 986.5V991.0M678.0 986.5V991.0" stroke="#8a8a8a" stroke-width="1" fill="none"/>
<text transform="translate(394.9 739.9) rotate(-90)" text-anchor="middle" font-size="12.5">1.5</text>
<text transform="translate(394.9 780.1) rotate(-90)" text-anchor="middle" font-size="12.5">1.0</text>
<text transform="translate(394.9 824.0) rotate(-90)" text-anchor="middle" font-size="12.5">0.5</text>
<text transform="translate(394.9 867.5) rotate(-90)" text-anchor="middle" font-size="12.5">0.0</text>
<text transform="translate(394.9 910.9) rotate(-90)" text-anchor="middle" font-size="12.5">-0.5</text>
<text transform="translate(394.9 953.4) rotate(-90)" text-anchor="middle" font-size="12.5">-1.0</text>
<text x="416.3" y="1004.6" text-anchor="middle" font-size="12">0h</text>
<text x="503.0" y="1004.6" text-anchor="middle" font-size="12">12h</text>
<text x="589.9" y="1004.6" text-anchor="middle" font-size="12">3d</text>
<text x="672.7" y="1004.6" text-anchor="middle" font-size="12">6d</text>
<text x="544.6" y="1022.0" text-anchor="middle" font-size="14" textLength="31" lengthAdjust="spacingAndGlyphs">Time</text>
<text x="549.0" y="719.7" text-anchor="middle" font-size="16" textLength="63" lengthAdjust="spacingAndGlyphs">Cluster 6</text>
<text transform="translate(376.8 854.0) rotate(-90)" text-anchor="middle" font-size="14" textLength="124" lengthAdjust="spacingAndGlyphs">Expression changes</text>
</g></svg></body></html>
